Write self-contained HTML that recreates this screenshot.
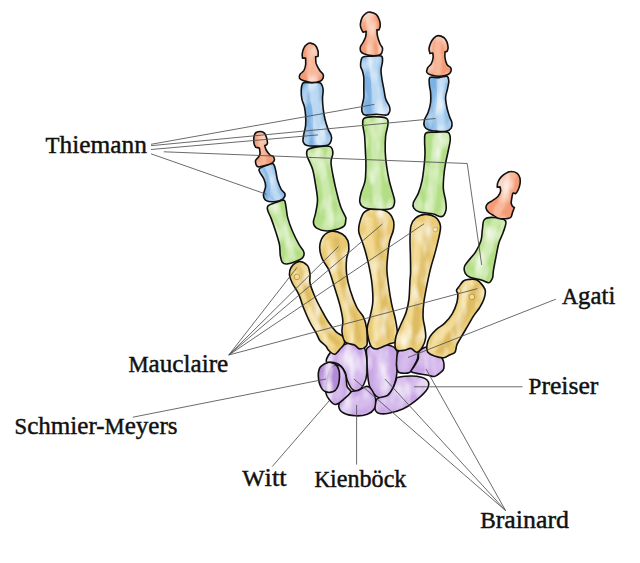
<!DOCTYPE html>
<html><head><meta charset="utf-8"><title>Hand bones</title>
<style>html,body{margin:0;padding:0;background:#fff}body{width:640px;height:563px;overflow:hidden}svg{display:block}
text{font-family:"Liberation Serif",serif;fill:#111}</style></head><body>
<svg width="640" height="563" viewBox="0 0 640 563">
<defs>
<filter id="b8" filterUnits="userSpaceOnUse" x="0" y="0" width="640" height="563"><feGaussianBlur stdDeviation="0.8"/></filter>
<filter id="b12" filterUnits="userSpaceOnUse" x="0" y="0" width="640" height="563"><feGaussianBlur stdDeviation="1.2"/></filter>
<filter id="b20" filterUnits="userSpaceOnUse" x="0" y="0" width="640" height="563"><feGaussianBlur stdDeviation="2"/></filter>
<filter id="wc" x="0" y="0" width="1" height="1">
<feTurbulence type="fractalNoise" baseFrequency="0.09 0.04" numOctaves="2" seed="11" result="n"/>
<feColorMatrix in="n" type="matrix" values="0 0 0 0 1  0 0 0 0 1  0 0 0 0 1  1.8 0 0 0 -0.78"/>
</filter>
</defs>
<rect width="640" height="563" fill="#fff"/>
<g><path d="M342.5,345.0C345.7,343.8 348.5,342.7 352.0,343.0C355.5,343.3 361.2,344.6 363.6,347.0C366.0,349.4 366.0,353.4 366.6,357.7C367.2,362.0 367.4,368.4 367.0,372.8C366.6,377.2 365.5,381.1 364.0,384.0C362.5,386.9 360.0,389.7 358.0,390.5C356.0,391.3 353.8,390.6 352.0,389.0C350.2,387.4 348.7,383.8 347.5,381.0C346.3,378.2 346.1,374.5 345.0,372.0C343.9,369.5 342.8,367.6 341.0,366.0C339.2,364.4 336.4,363.2 334.0,362.5C331.6,361.8 327.6,363.1 326.6,362.0C325.6,360.9 326.9,358.0 328.0,356.0C329.1,354.0 330.6,351.8 333.0,350.0C335.4,348.2 339.3,346.2 342.5,345.0Z" fill="#caa6e5"/><clipPath id="c1"><path d="M342.5,345.0C345.7,343.8 348.5,342.7 352.0,343.0C355.5,343.3 361.2,344.6 363.6,347.0C366.0,349.4 366.0,353.4 366.6,357.7C367.2,362.0 367.4,368.4 367.0,372.8C366.6,377.2 365.5,381.1 364.0,384.0C362.5,386.9 360.0,389.7 358.0,390.5C356.0,391.3 353.8,390.6 352.0,389.0C350.2,387.4 348.7,383.8 347.5,381.0C346.3,378.2 346.1,374.5 345.0,372.0C343.9,369.5 342.8,367.6 341.0,366.0C339.2,364.4 336.4,363.2 334.0,362.5C331.6,361.8 327.6,363.1 326.6,362.0C325.6,360.9 326.9,358.0 328.0,356.0C329.1,354.0 330.6,351.8 333.0,350.0C335.4,348.2 339.3,346.2 342.5,345.0Z"/></clipPath><g clip-path="url(#c1)"><path d="M348.4,354.3 L351.3,356.0 L353.3,358.3 L354.6,361.0 L355.5,363.9 L356.2,367.0 L356.7,370.2 L357.1,373.5 L357.7,376.7" fill="none" stroke="#dcc6f1" stroke-opacity="0.70" stroke-width="13.0" stroke-linecap="round" stroke-linejoin="round" filter="url(#b20)"/><rect x="324" y="341" width="45" height="52" filter="url(#wc)"/></g><path d="M342.5,345.0C345.7,343.8 348.5,342.7 352.0,343.0C355.5,343.3 361.2,344.6 363.6,347.0C366.0,349.4 366.0,353.4 366.6,357.7C367.2,362.0 367.4,368.4 367.0,372.8C366.6,377.2 365.5,381.1 364.0,384.0C362.5,386.9 360.0,389.7 358.0,390.5C356.0,391.3 353.8,390.6 352.0,389.0C350.2,387.4 348.7,383.8 347.5,381.0C346.3,378.2 346.1,374.5 345.0,372.0C343.9,369.5 342.8,367.6 341.0,366.0C339.2,364.4 336.4,363.2 334.0,362.5C331.6,361.8 327.6,363.1 326.6,362.0C325.6,360.9 326.9,358.0 328.0,356.0C329.1,354.0 330.6,351.8 333.0,350.0C335.4,348.2 339.3,346.2 342.5,345.0Z" fill="none" stroke="#111" stroke-width="1.6" stroke-linejoin="round"/></g>
<g><path d="M367.3,348.0C369.5,345.7 375.2,343.8 380.0,344.0C384.8,344.2 393.1,345.5 396.0,349.0C398.9,352.5 397.1,360.5 397.2,365.2C397.2,369.9 397.0,373.5 396.3,377.3C395.6,381.1 394.4,384.9 393.0,387.9C391.6,390.9 390.0,393.8 387.7,395.4C385.4,397.0 381.6,397.9 379.3,397.7C377.0,397.4 375.6,395.8 374.0,393.9C372.4,392.0 370.6,389.8 369.5,386.3C368.4,382.8 367.9,377.5 367.5,372.8C367.1,368.1 367.0,362.1 367.0,358.0C367.0,353.9 365.1,350.3 367.3,348.0Z" fill="#caa6e5"/><clipPath id="c2"><path d="M367.3,348.0C369.5,345.7 375.2,343.8 380.0,344.0C384.8,344.2 393.1,345.5 396.0,349.0C398.9,352.5 397.1,360.5 397.2,365.2C397.2,369.9 397.0,373.5 396.3,377.3C395.6,381.1 394.4,384.9 393.0,387.9C391.6,390.9 390.0,393.8 387.7,395.4C385.4,397.0 381.6,397.9 379.3,397.7C377.0,397.4 375.6,395.8 374.0,393.9C372.4,392.0 370.6,389.8 369.5,386.3C368.4,382.8 367.9,377.5 367.5,372.8C367.1,368.1 367.0,362.1 367.0,358.0C367.0,353.9 365.1,350.3 367.3,348.0Z"/></clipPath><g clip-path="url(#c2)"><path d="M382.3,357.2 L382.3,360.6 L382.2,364.0 L382.2,367.3 L382.3,370.7 L382.3,374.1 L382.2,377.4 L382.1,380.8 L381.9,384.2" fill="none" stroke="#dcc6f1" stroke-opacity="0.70" stroke-width="14.9" stroke-linecap="round" stroke-linejoin="round" filter="url(#b20)"/><rect x="364" y="342" width="35" height="58" filter="url(#wc)"/></g><path d="M367.3,348.0C369.5,345.7 375.2,343.8 380.0,344.0C384.8,344.2 393.1,345.5 396.0,349.0C398.9,352.5 397.1,360.5 397.2,365.2C397.2,369.9 397.0,373.5 396.3,377.3C395.6,381.1 394.4,384.9 393.0,387.9C391.6,390.9 390.0,393.8 387.7,395.4C385.4,397.0 381.6,397.9 379.3,397.7C377.0,397.4 375.6,395.8 374.0,393.9C372.4,392.0 370.6,389.8 369.5,386.3C368.4,382.8 367.9,377.5 367.5,372.8C367.1,368.1 367.0,362.1 367.0,358.0C367.0,353.9 365.1,350.3 367.3,348.0Z" fill="none" stroke="#111" stroke-width="1.6" stroke-linejoin="round"/></g>
<g><path d="M398.8,351.0C400.6,349.2 404.9,348.0 408.0,348.0C411.1,348.0 415.9,349.2 417.5,351.0C419.1,352.8 418.1,356.2 417.5,358.8C416.9,361.3 415.1,364.0 413.8,366.2C412.4,368.5 411.8,371.4 409.5,372.5C407.2,373.6 401.8,373.4 399.7,372.8C397.6,372.2 397.4,371.3 396.9,369.0C396.4,366.7 396.4,362.0 396.7,359.0C397.0,356.0 396.9,352.8 398.8,351.0Z" fill="#caa6e5"/><clipPath id="c3"><path d="M398.8,351.0C400.6,349.2 404.9,348.0 408.0,348.0C411.1,348.0 415.9,349.2 417.5,351.0C419.1,352.8 418.1,356.2 417.5,358.8C416.9,361.3 415.1,364.0 413.8,366.2C412.4,368.5 411.8,371.4 409.5,372.5C407.2,373.6 401.8,373.4 399.7,372.8C397.6,372.2 397.4,371.3 396.9,369.0C396.4,366.7 396.4,362.0 396.7,359.0C397.0,356.0 396.9,352.8 398.8,351.0Z"/></clipPath><g clip-path="url(#c3)"><path d="M409.5,354.2 L408.3,355.5 L407.2,356.9 L406.3,358.5 L405.7,360.1 L405.1,361.9 L404.7,363.7 L404.2,365.4 L403.6,367.2" fill="none" stroke="#dcc6f1" stroke-opacity="0.70" stroke-width="9.7" stroke-linecap="round" stroke-linejoin="round" filter="url(#b20)"/><rect x="394" y="346" width="26" height="29" filter="url(#wc)"/></g><path d="M398.8,351.0C400.6,349.2 404.9,348.0 408.0,348.0C411.1,348.0 415.9,349.2 417.5,351.0C419.1,352.8 418.1,356.2 417.5,358.8C416.9,361.3 415.1,364.0 413.8,366.2C412.4,368.5 411.8,371.4 409.5,372.5C407.2,373.6 401.8,373.4 399.7,372.8C397.6,372.2 397.4,371.3 396.9,369.0C396.4,366.7 396.4,362.0 396.7,359.0C397.0,356.0 396.9,352.8 398.8,351.0Z" fill="none" stroke="#111" stroke-width="1.6" stroke-linejoin="round"/></g>
<g><path d="M419.4,351.0C421.4,349.0 426.2,345.8 430.0,347.0C433.8,348.2 439.6,354.5 441.9,358.0C444.2,361.5 444.2,365.6 443.9,368.1C443.6,370.6 441.6,371.6 440.0,373.0C438.4,374.4 436.6,376.2 434.4,376.5C432.2,376.8 430.7,375.8 426.9,375.0C423.1,374.2 413.9,373.4 411.8,372.0C409.7,370.6 412.9,368.9 414.0,366.7C415.1,364.5 417.3,361.6 418.2,359.0C419.1,356.4 417.4,353.0 419.4,351.0Z" fill="#caa6e5"/><clipPath id="c4"><path d="M419.4,351.0C421.4,349.0 426.2,345.8 430.0,347.0C433.8,348.2 439.6,354.5 441.9,358.0C444.2,361.5 444.2,365.6 443.9,368.1C443.6,370.6 441.6,371.6 440.0,373.0C438.4,374.4 436.6,376.2 434.4,376.5C432.2,376.8 430.7,375.8 426.9,375.0C423.1,374.2 413.9,373.4 411.8,372.0C409.7,370.6 412.9,368.9 414.0,366.7C415.1,364.5 417.3,361.6 418.2,359.0C419.1,356.4 417.4,353.0 419.4,351.0Z"/></clipPath><g clip-path="url(#c4)"><path d="M422.7,360.2 L424.7,360.4 L426.5,360.9 L428.3,361.5 L430.0,362.2 L431.7,363.1 L433.4,364.1 L435.0,365.1 L436.7,366.2" fill="none" stroke="#dcc6f1" stroke-opacity="0.70" stroke-width="13.3" stroke-linecap="round" stroke-linejoin="round" filter="url(#b20)"/><rect x="409" y="345" width="37" height="34" filter="url(#wc)"/></g><path d="M419.4,351.0C421.4,349.0 426.2,345.8 430.0,347.0C433.8,348.2 439.6,354.5 441.9,358.0C444.2,361.5 444.2,365.6 443.9,368.1C443.6,370.6 441.6,371.6 440.0,373.0C438.4,374.4 436.6,376.2 434.4,376.5C432.2,376.8 430.7,375.8 426.9,375.0C423.1,374.2 413.9,373.4 411.8,372.0C409.7,370.6 412.9,368.9 414.0,366.7C415.1,364.5 417.3,361.6 418.2,359.0C419.1,356.4 417.4,353.0 419.4,351.0Z" fill="none" stroke="#111" stroke-width="1.6" stroke-linejoin="round"/></g>
<g><path d="M397.5,377.5C399.9,376.8 406.3,376.1 410.3,376.0C414.3,375.9 418.7,376.5 421.5,377.2C424.3,377.9 425.8,378.8 427.0,380.0C428.2,381.2 428.9,382.6 428.8,384.3C428.7,386.1 428.6,387.6 426.3,390.5C424.0,393.4 418.7,398.3 414.8,401.4C410.9,404.5 407.3,407.0 402.8,409.0C398.3,411.0 391.8,412.8 387.7,413.5C383.6,414.2 380.1,413.9 378.0,413.0C375.9,412.1 375.1,410.1 374.8,408.0C374.5,405.9 375.2,402.2 376.0,400.5C376.8,398.8 377.4,398.6 379.3,397.7C381.2,396.8 385.4,397.0 387.7,395.4C390.0,393.8 391.6,390.5 393.0,388.0C394.4,385.5 395.2,382.2 396.0,380.5C396.8,378.8 395.1,378.2 397.5,377.5Z" fill="#caa6e5"/><clipPath id="c5"><path d="M397.5,377.5C399.9,376.8 406.3,376.1 410.3,376.0C414.3,375.9 418.7,376.5 421.5,377.2C424.3,377.9 425.8,378.8 427.0,380.0C428.2,381.2 428.9,382.6 428.8,384.3C428.7,386.1 428.6,387.6 426.3,390.5C424.0,393.4 418.7,398.3 414.8,401.4C410.9,404.5 407.3,407.0 402.8,409.0C398.3,411.0 391.8,412.8 387.7,413.5C383.6,414.2 380.1,413.9 378.0,413.0C375.9,412.1 375.1,410.1 374.8,408.0C374.5,405.9 375.2,402.2 376.0,400.5C376.8,398.8 377.4,398.6 379.3,397.7C381.2,396.8 385.4,397.0 387.7,395.4C390.0,393.8 391.6,390.5 393.0,388.0C394.4,385.5 395.2,382.2 396.0,380.5C396.8,378.8 395.1,378.2 397.5,377.5Z"/></clipPath><g clip-path="url(#c5)"><path d="M413.9,386.7 L410.4,388.1 L406.9,389.6 L403.5,391.3 L401.3,395.0 L398.7,398.1 L395.9,400.8 L392.8,403.0 L389.3,404.3" fill="none" stroke="#dcc6f1" stroke-opacity="0.70" stroke-width="12.1" stroke-linecap="round" stroke-linejoin="round" filter="url(#b20)"/><rect x="373" y="374" width="58" height="42" filter="url(#wc)"/></g><path d="M397.5,377.5C399.9,376.8 406.3,376.1 410.3,376.0C414.3,375.9 418.7,376.5 421.5,377.2C424.3,377.9 425.8,378.8 427.0,380.0C428.2,381.2 428.9,382.6 428.8,384.3C428.7,386.1 428.6,387.6 426.3,390.5C424.0,393.4 418.7,398.3 414.8,401.4C410.9,404.5 407.3,407.0 402.8,409.0C398.3,411.0 391.8,412.8 387.7,413.5C383.6,414.2 380.1,413.9 378.0,413.0C375.9,412.1 375.1,410.1 374.8,408.0C374.5,405.9 375.2,402.2 376.0,400.5C376.8,398.8 377.4,398.6 379.3,397.7C381.2,396.8 385.4,397.0 387.7,395.4C390.0,393.8 391.6,390.5 393.0,388.0C394.4,385.5 395.2,382.2 396.0,380.5C396.8,378.8 395.1,378.2 397.5,377.5Z" fill="none" stroke="#111" stroke-width="1.6" stroke-linejoin="round"/></g>
<g><path d="M350.8,392.0C353.4,390.7 355.5,391.4 358.0,390.5C360.5,389.6 363.8,386.9 365.9,386.5C368.0,386.1 369.0,386.6 370.4,388.0C371.8,389.4 373.6,392.9 374.5,395.0C375.4,397.1 375.8,398.2 375.7,400.5C375.6,402.8 375.6,406.7 374.2,409.0C372.8,411.3 370.5,413.2 367.4,414.3C364.2,415.4 359.3,416.1 355.3,415.8C351.3,415.6 346.0,414.4 343.2,412.8C340.4,411.2 338.8,408.4 338.7,406.0C338.6,403.6 340.5,400.7 342.5,398.4C344.5,396.1 348.2,393.3 350.8,392.0Z" fill="#caa6e5"/><clipPath id="c6"><path d="M350.8,392.0C353.4,390.7 355.5,391.4 358.0,390.5C360.5,389.6 363.8,386.9 365.9,386.5C368.0,386.1 369.0,386.6 370.4,388.0C371.8,389.4 373.6,392.9 374.5,395.0C375.4,397.1 375.8,398.2 375.7,400.5C375.6,402.8 375.6,406.7 374.2,409.0C372.8,411.3 370.5,413.2 367.4,414.3C364.2,415.4 359.3,416.1 355.3,415.8C351.3,415.6 346.0,414.4 343.2,412.8C340.4,411.2 338.8,408.4 338.7,406.0C338.6,403.6 340.5,400.7 342.5,398.4C344.5,396.1 348.2,393.3 350.8,392.0Z"/></clipPath><g clip-path="url(#c6)"><path d="M366.5,400.4 L364.4,401.6 L362.2,402.5 L359.9,403.1 L357.5,403.4 L355.2,403.9 L352.9,404.5 L350.6,405.2 L348.4,405.8" fill="none" stroke="#dcc6f1" stroke-opacity="0.70" stroke-width="12.8" stroke-linecap="round" stroke-linejoin="round" filter="url(#b20)"/><rect x="337" y="384" width="41" height="33" filter="url(#wc)"/></g><path d="M350.8,392.0C353.4,390.7 355.5,391.4 358.0,390.5C360.5,389.6 363.8,386.9 365.9,386.5C368.0,386.1 369.0,386.6 370.4,388.0C371.8,389.4 373.6,392.9 374.5,395.0C375.4,397.1 375.8,398.2 375.7,400.5C375.6,402.8 375.6,406.7 374.2,409.0C372.8,411.3 370.5,413.2 367.4,414.3C364.2,415.4 359.3,416.1 355.3,415.8C351.3,415.6 346.0,414.4 343.2,412.8C340.4,411.2 338.8,408.4 338.7,406.0C338.6,403.6 340.5,400.7 342.5,398.4C344.5,396.1 348.2,393.3 350.8,392.0Z" fill="none" stroke="#111" stroke-width="1.6" stroke-linejoin="round"/></g>
<g><path d="M339.4,365.5C341.8,366.6 344.2,370.8 345.5,374.3C346.8,377.8 346.1,383.4 347.0,386.3C347.9,389.2 351.2,389.6 350.8,391.6C350.4,393.6 347.2,396.2 344.7,398.4C342.2,400.5 338.2,404.2 335.7,404.5C333.2,404.8 331.2,401.9 329.6,400.0C328.0,398.1 326.3,396.3 325.9,393.0C325.5,389.7 326.1,384.2 327.0,380.0C327.9,375.8 328.9,370.4 331.0,368.0C333.1,365.6 337.0,364.4 339.4,365.5Z" fill="#caa6e5"/><clipPath id="c7"><path d="M339.4,365.5C341.8,366.6 344.2,370.8 345.5,374.3C346.8,377.8 346.1,383.4 347.0,386.3C347.9,389.2 351.2,389.6 350.8,391.6C350.4,393.6 347.2,396.2 344.7,398.4C342.2,400.5 338.2,404.2 335.7,404.5C333.2,404.8 331.2,401.9 329.6,400.0C328.0,398.1 326.3,396.3 325.9,393.0C325.5,389.7 326.1,384.2 327.0,380.0C327.9,375.8 328.9,370.4 331.0,368.0C333.1,365.6 337.0,364.4 339.4,365.5Z"/></clipPath><g clip-path="url(#c7)"><path d="M336.9,375.0 L336.9,377.4 L336.7,379.9 L336.5,382.3 L336.5,384.8 L336.7,387.3 L337.9,389.7 L338.2,392.2 L337.5,394.7" fill="none" stroke="#dcc6f1" stroke-opacity="0.70" stroke-width="10.2" stroke-linecap="round" stroke-linejoin="round" filter="url(#b20)"/><rect x="324" y="363" width="29" height="43" filter="url(#wc)"/></g><path d="M339.4,365.5C341.8,366.6 344.2,370.8 345.5,374.3C346.8,377.8 346.1,383.4 347.0,386.3C347.9,389.2 351.2,389.6 350.8,391.6C350.4,393.6 347.2,396.2 344.7,398.4C342.2,400.5 338.2,404.2 335.7,404.5C333.2,404.8 331.2,401.9 329.6,400.0C328.0,398.1 326.3,396.3 325.9,393.0C325.5,389.7 326.1,384.2 327.0,380.0C327.9,375.8 328.9,370.4 331.0,368.0C333.1,365.6 337.0,364.4 339.4,365.5Z" fill="none" stroke="#111" stroke-width="1.6" stroke-linejoin="round"/></g>
<g><path d="M318.3,376.0C318.2,373.7 318.5,371.4 319.0,369.7C319.5,368.0 320.0,367.0 321.5,365.8C323.0,364.6 326.1,362.9 328.0,362.4C329.9,361.9 331.3,362.5 332.7,363.0C334.1,363.5 335.6,364.1 336.6,365.4C337.7,366.6 338.5,368.7 339.0,370.5C339.5,372.3 339.5,374.1 339.5,376.0C339.5,377.9 339.3,380.1 339.0,381.8C338.7,383.6 338.5,385.0 337.8,386.5C337.1,388.0 336.3,389.6 335.0,390.6C333.7,391.6 331.6,392.2 330.0,392.4C328.4,392.6 326.5,392.2 325.1,391.6C323.7,391.0 322.8,390.0 321.8,388.6C320.9,387.2 320.0,385.4 319.4,383.3C318.8,381.2 318.4,378.3 318.3,376.0Z" fill="#b48ad6"/><clipPath id="c8"><path d="M318.3,376.0C318.2,373.7 318.5,371.4 319.0,369.7C319.5,368.0 320.0,367.0 321.5,365.8C323.0,364.6 326.1,362.9 328.0,362.4C329.9,361.9 331.3,362.5 332.7,363.0C334.1,363.5 335.6,364.1 336.6,365.4C337.7,366.6 338.5,368.7 339.0,370.5C339.5,372.3 339.5,374.1 339.5,376.0C339.5,377.9 339.3,380.1 339.0,381.8C338.7,383.6 338.5,385.0 337.8,386.5C337.1,388.0 336.3,389.6 335.0,390.6C333.7,391.6 331.6,392.2 330.0,392.4C328.4,392.6 326.5,392.2 325.1,391.6C323.7,391.0 322.8,390.0 321.8,388.6C320.9,387.2 320.0,385.4 319.4,383.3C318.8,381.2 318.4,378.3 318.3,376.0Z"/></clipPath><g clip-path="url(#c8)"><path d="M342.5,345.0C345.7,343.8 348.5,342.7 352.0,343.0C355.5,343.3 361.2,344.6 363.6,347.0C366.0,349.4 366.0,353.4 366.6,357.7C367.2,362.0 367.4,368.4 367.0,372.8C366.6,377.2 365.5,381.1 364.0,384.0C362.5,386.9 360.0,389.7 358.0,390.5C356.0,391.3 353.8,390.6 352.0,389.0C350.2,387.4 348.7,383.8 347.5,381.0C346.3,378.2 346.1,374.5 345.0,372.0C343.9,369.5 342.8,367.6 341.0,366.0C339.2,364.4 336.4,363.2 334.0,362.5C331.6,361.8 327.6,363.1 326.6,362.0C325.6,360.9 326.9,358.0 328.0,356.0C329.1,354.0 330.6,351.8 333.0,350.0C335.4,348.2 339.3,346.2 342.5,345.0Z" fill="#b48bd6" fill-opacity="0.45" stroke="#2a1a3a" stroke-opacity="0.75" stroke-width="1.2"/><path d="M339.4,365.5C341.8,366.6 344.2,370.8 345.5,374.3C346.8,377.8 346.1,383.4 347.0,386.3C347.9,389.2 351.2,389.6 350.8,391.6C350.4,393.6 347.2,396.2 344.7,398.4C342.2,400.5 338.2,404.2 335.7,404.5C333.2,404.8 331.2,401.9 329.6,400.0C328.0,398.1 326.3,396.3 325.9,393.0C325.5,389.7 326.1,384.2 327.0,380.0C327.9,375.8 328.9,370.4 331.0,368.0C333.1,365.6 337.0,364.4 339.4,365.5Z" fill="none" stroke="#3a2a4a" stroke-opacity="0.4" stroke-width="1.1"/><rect x="316" y="360" width="25" height="34" filter="url(#wc)"/></g><path d="M318.3,376.0C318.2,373.7 318.5,371.4 319.0,369.7C319.5,368.0 320.0,367.0 321.5,365.8C323.0,364.6 326.1,362.9 328.0,362.4C329.9,361.9 331.3,362.5 332.7,363.0C334.1,363.5 335.6,364.1 336.6,365.4C337.7,366.6 338.5,368.7 339.0,370.5C339.5,372.3 339.5,374.1 339.5,376.0C339.5,377.9 339.3,380.1 339.0,381.8C338.7,383.6 338.5,385.0 337.8,386.5C337.1,388.0 336.3,389.6 335.0,390.6C333.7,391.6 331.6,392.2 330.0,392.4C328.4,392.6 326.5,392.2 325.1,391.6C323.7,391.0 322.8,390.0 321.8,388.6C320.9,387.2 320.0,385.4 319.4,383.3C318.8,381.2 318.4,378.3 318.3,376.0Z" fill="none" stroke="#111" stroke-width="1.6" stroke-linejoin="round"/></g>
<g><path d="M298.8,261.6C301.4,261.3 305.3,263.3 307.2,265.3C309.1,267.3 309.5,270.8 310.0,273.8C310.5,276.7 309.2,279.2 310.0,283.0C310.8,286.8 312.7,291.5 314.7,296.2C316.7,301.0 319.9,306.9 322.2,311.2C324.5,315.6 326.4,319.1 328.8,322.5C331.1,325.9 333.8,329.5 336.2,331.9C338.7,334.3 341.9,334.9 343.3,336.8C344.7,338.7 345.1,341.5 344.5,343.5C343.9,345.5 341.6,347.2 340.0,349.0C338.4,350.8 336.6,354.0 334.7,354.2C332.8,354.4 330.2,351.8 328.7,350.4C327.2,349.0 327.2,347.5 325.7,345.9C324.2,344.2 321.3,342.5 319.8,340.5C318.3,338.5 318.2,336.8 316.6,333.8C315.0,330.8 312.2,326.9 310.0,322.5C307.8,318.1 305.3,312.2 303.4,307.5C301.5,302.8 300.6,298.5 298.8,294.4C296.9,290.3 293.8,286.3 292.2,283.0C290.6,279.7 289.6,277.3 289.4,274.7C289.2,272.1 289.7,269.4 291.2,267.2C292.8,265.0 296.1,261.9 298.8,261.6Z" fill="#e9c972"/><clipPath id="c9"><path d="M298.8,261.6C301.4,261.3 305.3,263.3 307.2,265.3C309.1,267.3 309.5,270.8 310.0,273.8C310.5,276.7 309.2,279.2 310.0,283.0C310.8,286.8 312.7,291.5 314.7,296.2C316.7,301.0 319.9,306.9 322.2,311.2C324.5,315.6 326.4,319.1 328.8,322.5C331.1,325.9 333.8,329.5 336.2,331.9C338.7,334.3 341.9,334.9 343.3,336.8C344.7,338.7 345.1,341.5 344.5,343.5C343.9,345.5 341.6,347.2 340.0,349.0C338.4,350.8 336.6,354.0 334.7,354.2C332.8,354.4 330.2,351.8 328.7,350.4C327.2,349.0 327.2,347.5 325.7,345.9C324.2,344.2 321.3,342.5 319.8,340.5C318.3,338.5 318.2,336.8 316.6,333.8C315.0,330.8 312.2,326.9 310.0,322.5C307.8,318.1 305.3,312.2 303.4,307.5C301.5,302.8 300.6,298.5 298.8,294.4C296.9,290.3 293.8,286.3 292.2,283.0C290.6,279.7 289.6,277.3 289.4,274.7C289.2,272.1 289.7,269.4 291.2,267.2C292.8,265.0 296.1,261.9 298.8,261.6Z"/></clipPath><g clip-path="url(#c9)"><path d="M294.5,272.2 L297.8,282.2 L301.9,291.8 L305.6,301.6 L309.6,311.3 L314.1,320.7 L319.5,329.7 L324.9,338.6 L332.4,346.6" fill="none" stroke="#f4df9e" stroke-opacity="0.80" stroke-width="4.9" stroke-linecap="round" stroke-linejoin="round" filter="url(#b12)"/><path d="M300.7,269.2 L303.6,279.4 L306.3,289.7 L310.1,299.4 L314.4,309.0 L319.1,318.3 L324.5,327.2 L330.7,335.8 L338.2,343.8" fill="none" stroke="#d9b65d" stroke-opacity="0.70" stroke-width="4.9" stroke-linecap="round" stroke-linejoin="round" filter="url(#b12)"/><circle cx="296.9" cy="276.9" r="2.8" fill="#f3dc96" stroke="#b8923f" stroke-width="0.9"/><rect x="287" y="260" width="59" height="97" filter="url(#wc)"/></g><path d="M298.8,261.6C301.4,261.3 305.3,263.3 307.2,265.3C309.1,267.3 309.5,270.8 310.0,273.8C310.5,276.7 309.2,279.2 310.0,283.0C310.8,286.8 312.7,291.5 314.7,296.2C316.7,301.0 319.9,306.9 322.2,311.2C324.5,315.6 326.4,319.1 328.8,322.5C331.1,325.9 333.8,329.5 336.2,331.9C338.7,334.3 341.9,334.9 343.3,336.8C344.7,338.7 345.1,341.5 344.5,343.5C343.9,345.5 341.6,347.2 340.0,349.0C338.4,350.8 336.6,354.0 334.7,354.2C332.8,354.4 330.2,351.8 328.7,350.4C327.2,349.0 327.2,347.5 325.7,345.9C324.2,344.2 321.3,342.5 319.8,340.5C318.3,338.5 318.2,336.8 316.6,333.8C315.0,330.8 312.2,326.9 310.0,322.5C307.8,318.1 305.3,312.2 303.4,307.5C301.5,302.8 300.6,298.5 298.8,294.4C296.9,290.3 293.8,286.3 292.2,283.0C290.6,279.7 289.6,277.3 289.4,274.7C289.2,272.1 289.7,269.4 291.2,267.2C292.8,265.0 296.1,261.9 298.8,261.6Z" fill="none" stroke="#111" stroke-width="1.6" stroke-linejoin="round"/></g>
<g><path d="M331.9,231.2C335.0,230.9 339.5,232.4 342.2,234.0C344.9,235.6 346.7,237.9 347.8,240.6C348.9,243.3 348.9,247.0 348.8,250.0C348.6,253.0 347.0,254.8 346.6,258.8C346.2,262.7 346.0,268.4 346.6,273.8C347.2,279.1 348.6,285.0 350.3,290.6C352.0,296.2 354.7,303.1 356.9,307.5C359.1,311.9 361.8,313.5 363.4,316.9C365.0,320.3 366.0,324.4 366.6,328.1C367.2,331.9 367.2,336.4 367.2,339.4C367.2,342.4 367.7,344.3 366.4,345.9C365.1,347.5 361.6,349.0 359.6,348.9C357.6,348.8 356.8,346.1 354.4,345.0C352.0,343.9 347.4,344.2 345.3,342.0C343.2,339.8 342.4,335.6 342.0,332.0C341.6,328.4 343.1,325.0 342.8,320.6C342.5,316.2 341.4,311.2 340.0,305.6C338.6,300.0 336.3,292.8 334.4,286.9C332.5,281.0 330.8,274.7 328.8,270.0C326.7,265.3 323.7,262.6 322.2,258.8C320.7,254.9 319.5,250.8 319.7,247.0C319.9,243.2 321.4,238.6 323.4,236.0C325.4,233.4 328.8,231.6 331.9,231.2Z" fill="#e9c972"/><clipPath id="c10"><path d="M331.9,231.2C335.0,230.9 339.5,232.4 342.2,234.0C344.9,235.6 346.7,237.9 347.8,240.6C348.9,243.3 348.9,247.0 348.8,250.0C348.6,253.0 347.0,254.8 346.6,258.8C346.2,262.7 346.0,268.4 346.6,273.8C347.2,279.1 348.6,285.0 350.3,290.6C352.0,296.2 354.7,303.1 356.9,307.5C359.1,311.9 361.8,313.5 363.4,316.9C365.0,320.3 366.0,324.4 366.6,328.1C367.2,331.9 367.2,336.4 367.2,339.4C367.2,342.4 367.7,344.3 366.4,345.9C365.1,347.5 361.6,349.0 359.6,348.9C357.6,348.8 356.8,346.1 354.4,345.0C352.0,343.9 347.4,344.2 345.3,342.0C343.2,339.8 342.4,335.6 342.0,332.0C341.6,328.4 343.1,325.0 342.8,320.6C342.5,316.2 341.4,311.2 340.0,305.6C338.6,300.0 336.3,292.8 334.4,286.9C332.5,281.0 330.8,274.7 328.8,270.0C326.7,265.3 323.7,262.6 322.2,258.8C320.7,254.9 319.5,250.8 319.7,247.0C319.9,243.2 321.4,238.6 323.4,236.0C325.4,233.4 328.8,231.6 331.9,231.2Z"/></clipPath><g clip-path="url(#c10)"><path d="M327.4,242.2 L329.1,254.9 L333.1,267.1 L336.5,279.3 L340.0,291.6 L343.8,303.7 L347.5,315.9 L348.6,328.7 L351.9,341.1" fill="none" stroke="#f4df9e" stroke-opacity="0.80" stroke-width="5.7" stroke-linecap="round" stroke-linejoin="round" filter="url(#b12)"/><path d="M336.2,240.1 L338.4,252.6 L339.3,265.5 L341.5,278.1 L344.7,290.4 L348.7,302.5 L353.6,314.4 L356.8,326.7 L359.1,339.3" fill="none" stroke="#d9b65d" stroke-opacity="0.70" stroke-width="5.7" stroke-linecap="round" stroke-linejoin="round" filter="url(#b12)"/><rect x="318" y="229" width="52" height="122" filter="url(#wc)"/></g><path d="M331.9,231.2C335.0,230.9 339.5,232.4 342.2,234.0C344.9,235.6 346.7,237.9 347.8,240.6C348.9,243.3 348.9,247.0 348.8,250.0C348.6,253.0 347.0,254.8 346.6,258.8C346.2,262.7 346.0,268.4 346.6,273.8C347.2,279.1 348.6,285.0 350.3,290.6C352.0,296.2 354.7,303.1 356.9,307.5C359.1,311.9 361.8,313.5 363.4,316.9C365.0,320.3 366.0,324.4 366.6,328.1C367.2,331.9 367.2,336.4 367.2,339.4C367.2,342.4 367.7,344.3 366.4,345.9C365.1,347.5 361.6,349.0 359.6,348.9C357.6,348.8 356.8,346.1 354.4,345.0C352.0,343.9 347.4,344.2 345.3,342.0C343.2,339.8 342.4,335.6 342.0,332.0C341.6,328.4 343.1,325.0 342.8,320.6C342.5,316.2 341.4,311.2 340.0,305.6C338.6,300.0 336.3,292.8 334.4,286.9C332.5,281.0 330.8,274.7 328.8,270.0C326.7,265.3 323.7,262.6 322.2,258.8C320.7,254.9 319.5,250.8 319.7,247.0C319.9,243.2 321.4,238.6 323.4,236.0C325.4,233.4 328.8,231.6 331.9,231.2Z" fill="none" stroke="#111" stroke-width="1.6" stroke-linejoin="round"/></g>
<g><path d="M375.6,208.4C379.5,208.4 384.8,210.2 387.8,212.2C390.8,214.2 392.5,217.6 393.4,220.6C394.3,223.6 394.0,226.6 393.4,230.0C392.8,233.4 390.6,237.1 389.7,241.2C388.8,245.4 388.3,250.2 387.8,255.0C387.3,259.8 386.7,264.7 386.9,270.0C387.1,275.3 388.0,281.3 388.8,286.9C389.5,292.5 390.5,298.4 391.6,303.8C392.7,309.1 394.4,314.4 395.3,318.8C396.2,323.1 396.9,327.0 397.2,330.0C397.5,333.0 397.2,335.0 397.0,337.0C396.8,339.0 397.2,340.8 395.7,342.0C394.2,343.2 391.0,343.2 388.0,344.4C385.0,345.5 380.2,348.4 377.5,348.9C374.8,349.4 373.5,348.9 372.0,347.4C370.5,345.9 369.5,343.0 368.7,339.8C367.9,336.6 367.0,331.9 367.2,328.1C367.4,324.3 369.1,321.3 370.0,316.9C370.9,312.5 372.5,307.5 372.8,301.9C373.1,296.2 372.5,288.9 371.9,283.0C371.3,277.1 370.1,271.5 369.0,266.2C367.9,261.0 366.5,255.6 365.3,251.2C364.1,246.9 362.7,243.2 361.6,240.0C360.5,236.8 359.1,234.8 358.8,231.9C358.4,229.0 358.8,225.8 359.7,222.5C360.6,219.2 361.8,214.5 364.4,212.2C367.0,209.8 371.7,208.4 375.6,208.4Z" fill="#e9c972"/><clipPath id="c11"><path d="M375.6,208.4C379.5,208.4 384.8,210.2 387.8,212.2C390.8,214.2 392.5,217.6 393.4,220.6C394.3,223.6 394.0,226.6 393.4,230.0C392.8,233.4 390.6,237.1 389.7,241.2C388.8,245.4 388.3,250.2 387.8,255.0C387.3,259.8 386.7,264.7 386.9,270.0C387.1,275.3 388.0,281.3 388.8,286.9C389.5,292.5 390.5,298.4 391.6,303.8C392.7,309.1 394.4,314.4 395.3,318.8C396.2,323.1 396.9,327.0 397.2,330.0C397.5,333.0 397.2,335.0 397.0,337.0C396.8,339.0 397.2,340.8 395.7,342.0C394.2,343.2 391.0,343.2 388.0,344.4C385.0,345.5 380.2,348.4 377.5,348.9C374.8,349.4 373.5,348.9 372.0,347.4C370.5,345.9 369.5,343.0 368.7,339.8C367.9,336.6 367.0,331.9 367.2,328.1C367.4,324.3 369.1,321.3 370.0,316.9C370.9,312.5 372.5,307.5 372.8,301.9C373.1,296.2 372.5,288.9 371.9,283.0C371.3,277.1 370.1,271.5 369.0,266.2C367.9,261.0 366.5,255.6 365.3,251.2C364.1,246.9 362.7,243.2 361.6,240.0C360.5,236.8 359.1,234.8 358.8,231.9C358.4,229.0 358.8,225.8 359.7,222.5C360.6,219.2 361.8,214.5 364.4,212.2C367.0,209.8 371.7,208.4 375.6,208.4Z"/></clipPath><g clip-path="url(#c11)"><path d="M369.3,220.0 L368.9,234.8 L371.5,249.5 L373.8,264.1 L375.9,278.7 L377.5,293.4 L377.6,308.2 L375.9,323.1 L376.4,337.8" fill="none" stroke="#f4df9e" stroke-opacity="0.80" stroke-width="7.1" stroke-linecap="round" stroke-linejoin="round" filter="url(#b12)"/><path d="M380.3,219.3 L380.0,234.1 L379.5,248.9 L380.0,263.7 L381.4,278.4 L383.2,293.0 L384.6,307.7 L385.3,322.4 L386.2,337.1" fill="none" stroke="#d9b65d" stroke-opacity="0.70" stroke-width="7.1" stroke-linecap="round" stroke-linejoin="round" filter="url(#b12)"/><rect x="357" y="206" width="43" height="145" filter="url(#wc)"/></g><path d="M375.6,208.4C379.5,208.4 384.8,210.2 387.8,212.2C390.8,214.2 392.5,217.6 393.4,220.6C394.3,223.6 394.0,226.6 393.4,230.0C392.8,233.4 390.6,237.1 389.7,241.2C388.8,245.4 388.3,250.2 387.8,255.0C387.3,259.8 386.7,264.7 386.9,270.0C387.1,275.3 388.0,281.3 388.8,286.9C389.5,292.5 390.5,298.4 391.6,303.8C392.7,309.1 394.4,314.4 395.3,318.8C396.2,323.1 396.9,327.0 397.2,330.0C397.5,333.0 397.2,335.0 397.0,337.0C396.8,339.0 397.2,340.8 395.7,342.0C394.2,343.2 391.0,343.2 388.0,344.4C385.0,345.5 380.2,348.4 377.5,348.9C374.8,349.4 373.5,348.9 372.0,347.4C370.5,345.9 369.5,343.0 368.7,339.8C367.9,336.6 367.0,331.9 367.2,328.1C367.4,324.3 369.1,321.3 370.0,316.9C370.9,312.5 372.5,307.5 372.8,301.9C373.1,296.2 372.5,288.9 371.9,283.0C371.3,277.1 370.1,271.5 369.0,266.2C367.9,261.0 366.5,255.6 365.3,251.2C364.1,246.9 362.7,243.2 361.6,240.0C360.5,236.8 359.1,234.8 358.8,231.9C358.4,229.0 358.8,225.8 359.7,222.5C360.6,219.2 361.8,214.5 364.4,212.2C367.0,209.8 371.7,208.4 375.6,208.4Z" fill="none" stroke="#111" stroke-width="1.6" stroke-linejoin="round"/></g>
<g><path d="M425.0,214.4C428.3,214.2 432.7,215.3 435.3,217.2C437.9,219.1 439.8,222.3 440.4,225.6C441.0,228.9 439.9,232.5 439.0,236.9C438.1,241.3 436.6,246.9 435.3,251.9C434.0,256.9 432.4,261.6 431.0,266.9C429.6,272.2 428.4,277.9 427.2,283.8C426.0,289.6 424.6,296.4 423.9,302.0C423.2,307.6 422.9,313.0 423.1,317.5C423.3,322.0 424.6,325.3 425.0,328.8C425.4,332.2 426.1,335.0 425.6,338.1C425.1,341.2 423.7,345.1 422.2,347.5C420.7,349.9 418.5,352.1 416.6,352.2C414.7,352.3 413.0,348.7 411.0,348.4C409.0,348.1 406.8,350.0 404.4,350.3C402.0,350.6 398.5,351.1 396.9,350.3C395.3,349.5 395.1,347.9 395.0,345.6C394.9,343.3 395.1,339.7 396.0,336.2C396.9,332.8 398.9,329.1 400.6,325.0C402.3,320.9 404.9,316.3 406.2,311.9C407.6,307.5 408.4,304.1 409.0,298.8C409.6,293.4 409.7,284.4 410.0,280.0C410.3,275.6 410.5,276.6 410.6,272.5C410.7,268.4 410.5,261.2 410.4,255.6C410.3,250.0 409.9,243.8 410.0,238.8C410.1,233.8 410.1,229.0 411.0,225.6C411.9,222.2 413.3,220.0 415.6,218.1C417.9,216.2 421.7,214.6 425.0,214.4Z" fill="#e9c972"/><clipPath id="c12"><path d="M425.0,214.4C428.3,214.2 432.7,215.3 435.3,217.2C437.9,219.1 439.8,222.3 440.4,225.6C441.0,228.9 439.9,232.5 439.0,236.9C438.1,241.3 436.6,246.9 435.3,251.9C434.0,256.9 432.4,261.6 431.0,266.9C429.6,272.2 428.4,277.9 427.2,283.8C426.0,289.6 424.6,296.4 423.9,302.0C423.2,307.6 422.9,313.0 423.1,317.5C423.3,322.0 424.6,325.3 425.0,328.8C425.4,332.2 426.1,335.0 425.6,338.1C425.1,341.2 423.7,345.1 422.2,347.5C420.7,349.9 418.5,352.1 416.6,352.2C414.7,352.3 413.0,348.7 411.0,348.4C409.0,348.1 406.8,350.0 404.4,350.3C402.0,350.6 398.5,351.1 396.9,350.3C395.3,349.5 395.1,347.9 395.0,345.6C394.9,343.3 395.1,339.7 396.0,336.2C396.9,332.8 398.9,329.1 400.6,325.0C402.3,320.9 404.9,316.3 406.2,311.9C407.6,307.5 408.4,304.1 409.0,298.8C409.6,293.4 409.7,284.4 410.0,280.0C410.3,275.6 410.5,276.6 410.6,272.5C410.7,268.4 410.5,261.2 410.4,255.6C410.3,250.0 409.9,243.8 410.0,238.8C410.1,233.8 410.1,229.0 411.0,225.6C411.9,222.2 413.3,220.0 415.6,218.1C417.9,216.2 421.7,214.6 425.0,214.4Z"/></clipPath><g clip-path="url(#c12)"><path d="M419.8,224.6 L417.8,239.1 L417.0,253.7 L416.1,268.3 L414.7,282.8 L413.4,297.4 L411.1,311.8 L407.4,326.0 L403.5,340.2" fill="none" stroke="#f4df9e" stroke-opacity="0.80" stroke-width="7.2" stroke-linecap="round" stroke-linejoin="round" filter="url(#b12)"/><path d="M429.6,226.0 L427.3,240.4 L425.1,254.8 L422.7,269.2 L420.5,283.7 L418.6,298.1 L416.8,312.6 L415.7,327.2 L413.3,341.6" fill="none" stroke="#d9b65d" stroke-opacity="0.70" stroke-width="7.2" stroke-linecap="round" stroke-linejoin="round" filter="url(#b12)"/><circle cx="435.3" cy="229.4" r="2.4" fill="#f3dc96" stroke="#b8923f" stroke-width="0.9"/><rect x="393" y="212" width="50" height="142" filter="url(#wc)"/></g><path d="M425.0,214.4C428.3,214.2 432.7,215.3 435.3,217.2C437.9,219.1 439.8,222.3 440.4,225.6C441.0,228.9 439.9,232.5 439.0,236.9C438.1,241.3 436.6,246.9 435.3,251.9C434.0,256.9 432.4,261.6 431.0,266.9C429.6,272.2 428.4,277.9 427.2,283.8C426.0,289.6 424.6,296.4 423.9,302.0C423.2,307.6 422.9,313.0 423.1,317.5C423.3,322.0 424.6,325.3 425.0,328.8C425.4,332.2 426.1,335.0 425.6,338.1C425.1,341.2 423.7,345.1 422.2,347.5C420.7,349.9 418.5,352.1 416.6,352.2C414.7,352.3 413.0,348.7 411.0,348.4C409.0,348.1 406.8,350.0 404.4,350.3C402.0,350.6 398.5,351.1 396.9,350.3C395.3,349.5 395.1,347.9 395.0,345.6C394.9,343.3 395.1,339.7 396.0,336.2C396.9,332.8 398.9,329.1 400.6,325.0C402.3,320.9 404.9,316.3 406.2,311.9C407.6,307.5 408.4,304.1 409.0,298.8C409.6,293.4 409.7,284.4 410.0,280.0C410.3,275.6 410.5,276.6 410.6,272.5C410.7,268.4 410.5,261.2 410.4,255.6C410.3,250.0 409.9,243.8 410.0,238.8C410.1,233.8 410.1,229.0 411.0,225.6C411.9,222.2 413.3,220.0 415.6,218.1C417.9,216.2 421.7,214.6 425.0,214.4Z" fill="none" stroke="#111" stroke-width="1.6" stroke-linejoin="round"/></g>
<g><path d="M468.0,279.5C470.3,279.3 474.2,278.4 477.0,280.0C479.8,281.6 483.8,286.3 485.0,289.4C486.2,292.5 484.9,295.6 484.0,298.8C483.1,301.9 481.1,305.2 479.4,308.0C477.7,310.8 475.8,312.5 473.8,315.6C471.7,318.8 469.4,323.1 467.2,326.9C465.0,330.6 462.3,335.1 460.6,338.1C458.9,341.1 457.8,342.4 456.9,344.7C456.0,347.0 456.2,350.5 455.0,352.2C453.8,353.9 451.3,354.1 449.4,355.0C447.5,355.9 446.2,357.6 443.8,357.8C441.2,358.0 437.1,356.9 434.4,356.0C431.7,355.1 429.1,353.9 427.8,352.2C426.6,350.5 426.6,348.1 426.9,345.6C427.2,343.1 428.1,339.9 429.7,337.2C431.3,334.5 433.8,332.0 436.2,329.7C438.8,327.4 442.0,325.8 444.7,323.1C447.4,320.4 450.2,317.2 452.2,313.8C454.2,310.3 456.0,305.8 456.9,302.5C457.8,299.2 457.9,296.0 457.8,294.0C457.7,292.0 456.2,291.7 456.5,290.3C456.8,288.9 458.6,287.2 459.7,285.6C460.8,284.1 462.0,282.0 463.4,281.0C464.8,280.0 465.7,279.7 468.0,279.5Z" fill="#e9c972"/><clipPath id="c13"><path d="M468.0,279.5C470.3,279.3 474.2,278.4 477.0,280.0C479.8,281.6 483.8,286.3 485.0,289.4C486.2,292.5 484.9,295.6 484.0,298.8C483.1,301.9 481.1,305.2 479.4,308.0C477.7,310.8 475.8,312.5 473.8,315.6C471.7,318.8 469.4,323.1 467.2,326.9C465.0,330.6 462.3,335.1 460.6,338.1C458.9,341.1 457.8,342.4 456.9,344.7C456.0,347.0 456.2,350.5 455.0,352.2C453.8,353.9 451.3,354.1 449.4,355.0C447.5,355.9 446.2,357.6 443.8,357.8C441.2,358.0 437.1,356.9 434.4,356.0C431.7,355.1 429.1,353.9 427.8,352.2C426.6,350.5 426.6,348.1 426.9,345.6C427.2,343.1 428.1,339.9 429.7,337.2C431.3,334.5 433.8,332.0 436.2,329.7C438.8,327.4 442.0,325.8 444.7,323.1C447.4,320.4 450.2,317.2 452.2,313.8C454.2,310.3 456.0,305.8 456.9,302.5C457.8,299.2 457.9,296.0 457.8,294.0C457.7,292.0 456.2,291.7 456.5,290.3C456.8,288.9 458.6,287.2 459.7,285.6C460.8,284.1 462.0,282.0 463.4,281.0C464.8,280.0 465.7,279.7 468.0,279.5Z"/></clipPath><g clip-path="url(#c13)"><path d="M469.6,284.1 L464.7,291.9 L463.5,301.6 L460.2,310.2 L455.8,318.2 L450.2,325.7 L443.1,332.3 L437.5,339.8 L433.0,347.8" fill="none" stroke="#f4df9e" stroke-opacity="0.80" stroke-width="7.2" stroke-linecap="round" stroke-linejoin="round" filter="url(#b12)"/><path d="M477.1,287.9 L473.4,296.3 L470.6,305.2 L466.2,313.2 L461.8,321.3 L456.6,328.9 L450.7,336.2 L446.2,344.2 L440.3,351.5" fill="none" stroke="#d9b65d" stroke-opacity="0.70" stroke-width="7.2" stroke-linecap="round" stroke-linejoin="round" filter="url(#b12)"/><circle cx="471.9" cy="296.9" r="2.8" fill="#f3dc96" stroke="#b8923f" stroke-width="0.9"/><circle cx="458.6" cy="290.8" r="2.3" fill="#f3dc96" stroke="#b8923f" stroke-width="0.9"/><rect x="425" y="277" width="63" height="83" filter="url(#wc)"/></g><path d="M468.0,279.5C470.3,279.3 474.2,278.4 477.0,280.0C479.8,281.6 483.8,286.3 485.0,289.4C486.2,292.5 484.9,295.6 484.0,298.8C483.1,301.9 481.1,305.2 479.4,308.0C477.7,310.8 475.8,312.5 473.8,315.6C471.7,318.8 469.4,323.1 467.2,326.9C465.0,330.6 462.3,335.1 460.6,338.1C458.9,341.1 457.8,342.4 456.9,344.7C456.0,347.0 456.2,350.5 455.0,352.2C453.8,353.9 451.3,354.1 449.4,355.0C447.5,355.9 446.2,357.6 443.8,357.8C441.2,358.0 437.1,356.9 434.4,356.0C431.7,355.1 429.1,353.9 427.8,352.2C426.6,350.5 426.6,348.1 426.9,345.6C427.2,343.1 428.1,339.9 429.7,337.2C431.3,334.5 433.8,332.0 436.2,329.7C438.8,327.4 442.0,325.8 444.7,323.1C447.4,320.4 450.2,317.2 452.2,313.8C454.2,310.3 456.0,305.8 456.9,302.5C457.8,299.2 457.9,296.0 457.8,294.0C457.7,292.0 456.2,291.7 456.5,290.3C456.8,288.9 458.6,287.2 459.7,285.6C460.8,284.1 462.0,282.0 463.4,281.0C464.8,280.0 465.7,279.7 468.0,279.5Z" fill="none" stroke="#111" stroke-width="1.6" stroke-linejoin="round"/></g>
<g><path d="M268.1,205.9C269.6,204.5 274.0,203.1 276.6,202.2C279.2,201.3 282.4,199.5 284.0,200.3C285.6,201.1 285.4,203.9 286.0,206.9C286.6,209.9 286.7,214.0 287.8,218.1C288.9,222.2 290.6,226.9 292.5,231.2C294.4,235.6 297.1,241.0 299.0,244.4C300.9,247.8 303.1,249.7 303.8,251.9C304.4,254.1 304.1,255.9 302.8,257.5C301.6,259.1 298.9,260.2 296.2,261.2C293.6,262.3 289.2,263.8 286.9,264.0C284.6,264.2 283.3,263.6 282.2,262.2C281.1,260.8 280.8,258.6 280.3,255.6C279.8,252.6 280.2,248.5 279.4,244.4C278.6,240.3 277.0,235.6 275.6,231.2C274.2,226.9 272.3,221.5 271.0,218.1C269.7,214.7 268.2,212.6 267.8,210.6C267.3,208.6 266.6,207.3 268.1,205.9Z" fill="#b3de86"/><clipPath id="c14"><path d="M268.1,205.9C269.6,204.5 274.0,203.1 276.6,202.2C279.2,201.3 282.4,199.5 284.0,200.3C285.6,201.1 285.4,203.9 286.0,206.9C286.6,209.9 286.7,214.0 287.8,218.1C288.9,222.2 290.6,226.9 292.5,231.2C294.4,235.6 297.1,241.0 299.0,244.4C300.9,247.8 303.1,249.7 303.8,251.9C304.4,254.1 304.1,255.9 302.8,257.5C301.6,259.1 298.9,260.2 296.2,261.2C293.6,262.3 289.2,263.8 286.9,264.0C284.6,264.2 283.3,263.6 282.2,262.2C281.1,260.8 280.8,258.6 280.3,255.6C279.8,252.6 280.2,248.5 279.4,244.4C278.6,240.3 277.0,235.6 275.6,231.2C274.2,226.9 272.3,221.5 271.0,218.1C269.7,214.7 268.2,212.6 267.8,210.6C267.3,208.6 266.6,207.3 268.1,205.9Z"/></clipPath><g clip-path="url(#c14)"><path d="M276.6,207.2 L278.4,213.5 L280.1,219.9 L282.1,226.1 L284.3,232.3 L286.6,238.5 L288.7,244.8 L290.7,251.1 L292.8,257.3" fill="none" stroke="#d6eebb" stroke-opacity="0.75" stroke-width="6.9" stroke-linecap="round" stroke-linejoin="round" filter="url(#b12)"/><rect x="265" y="198" width="41" height="68" filter="url(#wc)"/></g><path d="M268.1,205.9C269.6,204.5 274.0,203.1 276.6,202.2C279.2,201.3 282.4,199.5 284.0,200.3C285.6,201.1 285.4,203.9 286.0,206.9C286.6,209.9 286.7,214.0 287.8,218.1C288.9,222.2 290.6,226.9 292.5,231.2C294.4,235.6 297.1,241.0 299.0,244.4C300.9,247.8 303.1,249.7 303.8,251.9C304.4,254.1 304.1,255.9 302.8,257.5C301.6,259.1 298.9,260.2 296.2,261.2C293.6,262.3 289.2,263.8 286.9,264.0C284.6,264.2 283.3,263.6 282.2,262.2C281.1,260.8 280.8,258.6 280.3,255.6C279.8,252.6 280.2,248.5 279.4,244.4C278.6,240.3 277.0,235.6 275.6,231.2C274.2,226.9 272.3,221.5 271.0,218.1C269.7,214.7 268.2,212.6 267.8,210.6C267.3,208.6 266.6,207.3 268.1,205.9Z" fill="none" stroke="#111" stroke-width="1.6" stroke-linejoin="round"/></g>
<g><path d="M308.1,149.4C310.2,148.0 315.7,147.1 319.4,146.6C323.1,146.1 328.0,145.5 330.2,146.6C332.5,147.7 332.8,150.4 332.9,153.1C333.0,155.8 330.9,158.4 331.0,162.5C331.1,166.6 332.4,172.2 333.4,177.5C334.4,182.8 335.9,189.4 337.2,194.4C338.5,199.4 339.5,203.6 341.0,207.5C342.5,211.4 344.3,214.4 346.0,217.8C345.6,220.3 346.0,223.4 344.7,225.3C343.4,227.2 341.1,228.1 338.1,229.0C335.1,229.9 330.5,231.2 326.9,231.0C323.3,230.8 318.9,229.5 316.6,228.1C314.4,226.7 313.6,225.0 313.4,222.5C313.2,220.0 314.9,216.8 315.6,213.1C316.3,209.3 317.5,204.7 317.5,200.0C317.5,195.3 316.4,190.0 315.6,185.0C314.8,180.0 313.9,174.1 312.8,170.0C311.7,165.9 310.0,163.1 309.0,160.6C308.0,158.1 306.9,156.9 306.8,155.0C306.7,153.1 306.0,150.8 308.1,149.4Z" fill="#b3de86"/><clipPath id="c15"><path d="M308.1,149.4C310.2,148.0 315.7,147.1 319.4,146.6C323.1,146.1 328.0,145.5 330.2,146.6C332.5,147.7 332.8,150.4 332.9,153.1C333.0,155.8 330.9,158.4 331.0,162.5C331.1,166.6 332.4,172.2 333.4,177.5C334.4,182.8 335.9,189.4 337.2,194.4C338.5,199.4 339.5,203.6 341.0,207.5C342.5,211.4 344.3,214.4 346.0,217.8C345.6,220.3 346.0,223.4 344.7,225.3C343.4,227.2 341.1,228.1 338.1,229.0C335.1,229.9 330.5,231.2 326.9,231.0C323.3,230.8 318.9,229.5 316.6,228.1C314.4,226.7 313.6,225.0 313.4,222.5C313.2,220.0 314.9,216.8 315.6,213.1C316.3,209.3 317.5,204.7 317.5,200.0C317.5,195.3 316.4,190.0 315.6,185.0C314.8,180.0 313.9,174.1 312.8,170.0C311.7,165.9 310.0,163.1 309.0,160.6C308.0,158.1 306.9,156.9 306.8,155.0C306.7,153.1 306.0,150.8 308.1,149.4Z"/></clipPath><g clip-path="url(#c15)"><path d="M319.8,153.4 L320.8,162.2 L322.6,171.0 L324.3,179.7 L325.9,188.5 L327.5,197.3 L328.2,206.2 L328.9,215.1 L330.3,224.0" fill="none" stroke="#d6eebb" stroke-opacity="0.75" stroke-width="8.4" stroke-linecap="round" stroke-linejoin="round" filter="url(#b12)"/><rect x="305" y="144" width="43" height="89" filter="url(#wc)"/></g><path d="M308.1,149.4C310.2,148.0 315.7,147.1 319.4,146.6C323.1,146.1 328.0,145.5 330.2,146.6C332.5,147.7 332.8,150.4 332.9,153.1C333.0,155.8 330.9,158.4 331.0,162.5C331.1,166.6 332.4,172.2 333.4,177.5C334.4,182.8 335.9,189.4 337.2,194.4C338.5,199.4 339.5,203.6 341.0,207.5C342.5,211.4 344.3,214.4 346.0,217.8C345.6,220.3 346.0,223.4 344.7,225.3C343.4,227.2 341.1,228.1 338.1,229.0C335.1,229.9 330.5,231.2 326.9,231.0C323.3,230.8 318.9,229.5 316.6,228.1C314.4,226.7 313.6,225.0 313.4,222.5C313.2,220.0 314.9,216.8 315.6,213.1C316.3,209.3 317.5,204.7 317.5,200.0C317.5,195.3 316.4,190.0 315.6,185.0C314.8,180.0 313.9,174.1 312.8,170.0C311.7,165.9 310.0,163.1 309.0,160.6C308.0,158.1 306.9,156.9 306.8,155.0C306.7,153.1 306.0,150.8 308.1,149.4Z" fill="none" stroke="#111" stroke-width="1.6" stroke-linejoin="round"/></g>
<g><path d="M364.0,118.4C365.9,117.0 370.6,116.6 374.4,116.6C378.2,116.6 384.4,117.0 386.6,118.4C388.9,119.8 388.1,122.0 387.9,125.0C387.7,128.0 386.0,131.9 385.6,136.2C385.2,140.6 385.1,146.2 385.2,151.2C385.4,156.2 385.9,161.2 386.6,166.2C387.3,171.2 388.3,176.6 389.4,181.2C390.5,185.9 392.2,191.0 393.1,194.4C394.0,197.8 394.9,199.6 394.6,201.9C394.3,204.2 394.3,207.2 391.2,208.4C388.2,209.7 380.8,209.6 376.2,209.4C371.7,209.2 366.8,208.8 364.0,207.5C361.2,206.2 360.2,204.4 359.8,201.9C359.3,199.4 360.4,195.9 361.2,192.5C362.1,189.1 364.2,185.6 365.0,181.2C365.8,176.9 365.8,171.2 365.9,166.2C366.0,161.2 365.6,156.2 365.4,151.2C365.2,146.2 365.0,140.6 364.6,136.2C364.2,131.9 362.9,128.0 362.8,125.0C362.6,122.0 362.1,119.8 364.0,118.4Z" fill="#b3de86"/><clipPath id="c16"><path d="M364.0,118.4C365.9,117.0 370.6,116.6 374.4,116.6C378.2,116.6 384.4,117.0 386.6,118.4C388.9,119.8 388.1,122.0 387.9,125.0C387.7,128.0 386.0,131.9 385.6,136.2C385.2,140.6 385.1,146.2 385.2,151.2C385.4,156.2 385.9,161.2 386.6,166.2C387.3,171.2 388.3,176.6 389.4,181.2C390.5,185.9 392.2,191.0 393.1,194.4C394.0,197.8 394.9,199.6 394.6,201.9C394.3,204.2 394.3,207.2 391.2,208.4C388.2,209.7 380.8,209.6 376.2,209.4C371.7,209.2 366.8,208.8 364.0,207.5C361.2,206.2 360.2,204.4 359.8,201.9C359.3,199.4 360.4,195.9 361.2,192.5C362.1,189.1 364.2,185.6 365.0,181.2C365.8,176.9 365.8,171.2 365.9,166.2C366.0,161.2 365.6,156.2 365.4,151.2C365.2,146.2 365.0,140.6 364.6,136.2C364.2,131.9 362.9,128.0 362.8,125.0C362.6,122.0 362.1,119.8 364.0,118.4Z"/></clipPath><g clip-path="url(#c16)"><path d="M375.4,124.0 L375.2,133.8 L375.2,143.6 L375.4,153.3 L376.0,163.1 L376.7,172.9 L377.1,182.6 L376.8,192.4 L377.3,202.2" fill="none" stroke="#d6eebb" stroke-opacity="0.75" stroke-width="8.7" stroke-linecap="round" stroke-linejoin="round" filter="url(#b12)"/><rect x="358" y="115" width="39" height="97" filter="url(#wc)"/></g><path d="M364.0,118.4C365.9,117.0 370.6,116.6 374.4,116.6C378.2,116.6 384.4,117.0 386.6,118.4C388.9,119.8 388.1,122.0 387.9,125.0C387.7,128.0 386.0,131.9 385.6,136.2C385.2,140.6 385.1,146.2 385.2,151.2C385.4,156.2 385.9,161.2 386.6,166.2C387.3,171.2 388.3,176.6 389.4,181.2C390.5,185.9 392.2,191.0 393.1,194.4C394.0,197.8 394.9,199.6 394.6,201.9C394.3,204.2 394.3,207.2 391.2,208.4C388.2,209.7 380.8,209.6 376.2,209.4C371.7,209.2 366.8,208.8 364.0,207.5C361.2,206.2 360.2,204.4 359.8,201.9C359.3,199.4 360.4,195.9 361.2,192.5C362.1,189.1 364.2,185.6 365.0,181.2C365.8,176.9 365.8,171.2 365.9,166.2C366.0,161.2 365.6,156.2 365.4,151.2C365.2,146.2 365.0,140.6 364.6,136.2C364.2,131.9 362.9,128.0 362.8,125.0C362.6,122.0 362.1,119.8 364.0,118.4Z" fill="none" stroke="#111" stroke-width="1.6" stroke-linejoin="round"/></g>
<g><path d="M425.9,133.1C427.8,131.7 432.6,132.3 436.2,132.2C439.9,132.0 445.6,131.1 447.9,132.2C450.2,133.3 450.2,135.8 450.3,138.8C450.4,141.7 449.2,145.9 448.4,150.0C447.6,154.1 446.4,158.7 445.6,163.1C444.8,167.5 444.1,171.9 443.8,176.2C443.4,180.6 443.1,185.3 443.4,189.4C443.7,193.5 445.2,197.2 445.6,200.6C446.0,204.0 446.6,207.3 446.0,210.0C445.4,212.7 444.1,216.0 441.9,216.6C439.6,217.2 436.2,214.5 432.5,213.8C428.8,213.0 422.5,212.8 419.4,211.9C416.3,211.0 414.8,209.7 413.8,208.1C412.8,206.5 412.6,205.0 413.4,202.5C414.2,200.0 416.9,196.8 418.4,193.1C419.9,189.3 421.3,184.4 422.2,180.0C423.1,175.6 423.5,171.3 424.0,166.9C424.5,162.5 424.9,158.1 425.0,153.8C425.1,149.4 424.5,144.0 424.6,140.6C424.8,137.2 424.0,134.5 425.9,133.1Z" fill="#b3de86"/><clipPath id="c17"><path d="M425.9,133.1C427.8,131.7 432.6,132.3 436.2,132.2C439.9,132.0 445.6,131.1 447.9,132.2C450.2,133.3 450.2,135.8 450.3,138.8C450.4,141.7 449.2,145.9 448.4,150.0C447.6,154.1 446.4,158.7 445.6,163.1C444.8,167.5 444.1,171.9 443.8,176.2C443.4,180.6 443.1,185.3 443.4,189.4C443.7,193.5 445.2,197.2 445.6,200.6C446.0,204.0 446.6,207.3 446.0,210.0C445.4,212.7 444.1,216.0 441.9,216.6C439.6,217.2 436.2,214.5 432.5,213.8C428.8,213.0 422.5,212.8 419.4,211.9C416.3,211.0 414.8,209.7 413.8,208.1C412.8,206.5 412.6,205.0 413.4,202.5C414.2,200.0 416.9,196.8 418.4,193.1C419.9,189.3 421.3,184.4 422.2,180.0C423.1,175.6 423.5,171.3 424.0,166.9C424.5,162.5 424.9,158.1 425.0,153.8C425.1,149.4 424.5,144.0 424.6,140.6C424.8,137.2 424.0,134.5 425.9,133.1Z"/></clipPath><g clip-path="url(#c17)"><path d="M437.4,137.6 L436.8,146.5 L436.0,155.4 L434.8,164.2 L433.7,173.1 L432.7,181.9 L431.8,190.8 L430.8,199.6 L429.5,208.5" fill="none" stroke="#d6eebb" stroke-opacity="0.75" stroke-width="9.7" stroke-linecap="round" stroke-linejoin="round" filter="url(#b12)"/><rect x="411" y="130" width="41" height="89" filter="url(#wc)"/></g><path d="M425.9,133.1C427.8,131.7 432.6,132.3 436.2,132.2C439.9,132.0 445.6,131.1 447.9,132.2C450.2,133.3 450.2,135.8 450.3,138.8C450.4,141.7 449.2,145.9 448.4,150.0C447.6,154.1 446.4,158.7 445.6,163.1C444.8,167.5 444.1,171.9 443.8,176.2C443.4,180.6 443.1,185.3 443.4,189.4C443.7,193.5 445.2,197.2 445.6,200.6C446.0,204.0 446.6,207.3 446.0,210.0C445.4,212.7 444.1,216.0 441.9,216.6C439.6,217.2 436.2,214.5 432.5,213.8C428.8,213.0 422.5,212.8 419.4,211.9C416.3,211.0 414.8,209.7 413.8,208.1C412.8,206.5 412.6,205.0 413.4,202.5C414.2,200.0 416.9,196.8 418.4,193.1C419.9,189.3 421.3,184.4 422.2,180.0C423.1,175.6 423.5,171.3 424.0,166.9C424.5,162.5 424.9,158.1 425.0,153.8C425.1,149.4 424.5,144.0 424.6,140.6C424.8,137.2 424.0,134.5 425.9,133.1Z" fill="none" stroke="#111" stroke-width="1.6" stroke-linejoin="round"/></g>
<g><path d="M484.5,219.5C486.5,217.5 490.9,217.2 494.4,217.5C497.9,217.8 504.1,218.6 505.6,221.0C507.1,223.4 504.4,228.4 503.3,232.0C502.2,235.6 500.2,238.6 499.0,242.5C497.8,246.4 497.2,250.9 496.2,255.6C495.3,260.3 494.0,266.9 493.4,270.6C492.8,274.3 493.3,276.0 492.5,278.0C491.7,280.0 490.6,282.5 488.8,282.8C486.9,283.1 484.4,280.9 481.2,280.0C478.1,279.1 472.7,278.3 470.0,277.2C467.3,276.1 466.2,275.1 465.3,273.4C464.4,271.7 463.9,268.9 464.4,266.9C464.8,264.9 466.1,263.8 468.0,261.2C469.9,258.8 473.4,255.3 475.6,251.9C477.8,248.5 479.9,244.3 481.0,240.6C482.1,236.8 481.8,232.9 482.4,229.4C483.0,225.9 482.5,221.5 484.5,219.5Z" fill="#b3de86"/><clipPath id="c18"><path d="M484.5,219.5C486.5,217.5 490.9,217.2 494.4,217.5C497.9,217.8 504.1,218.6 505.6,221.0C507.1,223.4 504.4,228.4 503.3,232.0C502.2,235.6 500.2,238.6 499.0,242.5C497.8,246.4 497.2,250.9 496.2,255.6C495.3,260.3 494.0,266.9 493.4,270.6C492.8,274.3 493.3,276.0 492.5,278.0C491.7,280.0 490.6,282.5 488.8,282.8C486.9,283.1 484.4,280.9 481.2,280.0C478.1,279.1 472.7,278.3 470.0,277.2C467.3,276.1 466.2,275.1 465.3,273.4C464.4,271.7 463.9,268.9 464.4,266.9C464.8,264.9 466.1,263.8 468.0,261.2C469.9,258.8 473.4,255.3 475.6,251.9C477.8,248.5 479.9,244.3 481.0,240.6C482.1,236.8 481.8,232.9 482.4,229.4C483.0,225.9 482.5,221.5 484.5,219.5Z"/></clipPath><g clip-path="url(#c18)"><path d="M495.6,222.1 L493.0,228.6 L491.3,235.3 L489.9,242.0 L488.0,248.7 L485.7,255.2 L482.8,261.5 L479.8,267.7 L478.2,274.4" fill="none" stroke="#d6eebb" stroke-opacity="0.75" stroke-width="8.5" stroke-linecap="round" stroke-linejoin="round" filter="url(#b12)"/><rect x="462" y="215" width="46" height="69" filter="url(#wc)"/></g><path d="M484.5,219.5C486.5,217.5 490.9,217.2 494.4,217.5C497.9,217.8 504.1,218.6 505.6,221.0C507.1,223.4 504.4,228.4 503.3,232.0C502.2,235.6 500.2,238.6 499.0,242.5C497.8,246.4 497.2,250.9 496.2,255.6C495.3,260.3 494.0,266.9 493.4,270.6C492.8,274.3 493.3,276.0 492.5,278.0C491.7,280.0 490.6,282.5 488.8,282.8C486.9,283.1 484.4,280.9 481.2,280.0C478.1,279.1 472.7,278.3 470.0,277.2C467.3,276.1 466.2,275.1 465.3,273.4C464.4,271.7 463.9,268.9 464.4,266.9C464.8,264.9 466.1,263.8 468.0,261.2C469.9,258.8 473.4,255.3 475.6,251.9C477.8,248.5 479.9,244.3 481.0,240.6C482.1,236.8 481.8,232.9 482.4,229.4C483.0,225.9 482.5,221.5 484.5,219.5Z" fill="none" stroke="#111" stroke-width="1.6" stroke-linejoin="round"/></g>
<g><path d="M259.4,168.8C260.6,167.5 265.2,165.8 267.5,165.0C269.8,164.2 271.8,162.9 273.1,163.8C274.5,164.6 274.9,167.3 275.6,170.0C276.3,172.7 276.6,176.8 277.5,180.0C278.4,183.2 280.0,187.1 281.2,189.4C282.5,191.7 284.7,192.4 285.0,194.0C285.3,195.6 284.6,197.5 283.0,198.8C281.4,200.0 278.4,201.3 275.6,201.6C272.8,201.9 268.3,201.7 266.2,200.6C264.2,199.5 263.5,197.4 263.4,195.0C263.3,192.6 265.5,189.0 265.6,186.2C265.7,183.5 264.7,181.0 263.8,178.8C262.8,176.5 260.7,174.2 260.0,172.5C259.3,170.8 258.1,170.0 259.4,168.8Z" fill="#94c0e8"/><clipPath id="c19"><path d="M259.4,168.8C260.6,167.5 265.2,165.8 267.5,165.0C269.8,164.2 271.8,162.9 273.1,163.8C274.5,164.6 274.9,167.3 275.6,170.0C276.3,172.7 276.6,176.8 277.5,180.0C278.4,183.2 280.0,187.1 281.2,189.4C282.5,191.7 284.7,192.4 285.0,194.0C285.3,195.6 284.6,197.5 283.0,198.8C281.4,200.0 278.4,201.3 275.6,201.6C272.8,201.9 268.3,201.7 266.2,200.6C264.2,199.5 263.5,197.4 263.4,195.0C263.3,192.6 265.5,189.0 265.6,186.2C265.7,183.5 264.7,181.0 263.8,178.8C262.8,176.5 260.7,174.2 260.0,172.5C259.3,170.8 258.1,170.0 259.4,168.8Z"/></clipPath><g clip-path="url(#c19)"><path d="M268.3,167.7 L269.7,171.4 L271.1,175.2 L272.1,179.0 L273.0,182.9 L273.4,186.9 L273.9,191.0 L275.7,194.5 L278.3,197.9" fill="none" stroke="#c4dff6" stroke-opacity="0.80" stroke-width="6.9" stroke-linecap="round" stroke-linejoin="round" filter="url(#b12)"/><path d="M262.2,169.8 L264.0,173.4 L265.9,176.9 L267.2,180.7 L268.0,184.6 L267.6,188.9 L266.9,193.3 L268.0,197.1 L271.6,200.1" fill="none" stroke="#74abe0" stroke-opacity="0.70" stroke-width="5.4" stroke-linecap="round" stroke-linejoin="round" filter="url(#b15)"/><rect x="257" y="161" width="30" height="42" filter="url(#wc)"/></g><path d="M259.4,168.8C260.6,167.5 265.2,165.8 267.5,165.0C269.8,164.2 271.8,162.9 273.1,163.8C274.5,164.6 274.9,167.3 275.6,170.0C276.3,172.7 276.6,176.8 277.5,180.0C278.4,183.2 280.0,187.1 281.2,189.4C282.5,191.7 284.7,192.4 285.0,194.0C285.3,195.6 284.6,197.5 283.0,198.8C281.4,200.0 278.4,201.3 275.6,201.6C272.8,201.9 268.3,201.7 266.2,200.6C264.2,199.5 263.5,197.4 263.4,195.0C263.3,192.6 265.5,189.0 265.6,186.2C265.7,183.5 264.7,181.0 263.8,178.8C262.8,176.5 260.7,174.2 260.0,172.5C259.3,170.8 258.1,170.0 259.4,168.8Z" fill="none" stroke="#111" stroke-width="1.6" stroke-linejoin="round"/></g>
<g><path d="M303.1,83.0C304.8,81.7 308.4,82.8 311.2,82.8C314.1,82.8 318.0,81.7 320.0,82.8C322.0,83.8 322.7,86.7 323.1,89.2C323.5,91.8 322.5,94.9 322.5,98.0C322.5,101.1 322.7,104.5 323.1,108.0C323.5,111.5 324.2,115.7 325.0,119.2C325.8,122.8 327.1,126.5 328.1,129.2C329.1,132.0 330.7,133.6 331.2,135.5C331.8,137.4 331.8,138.9 331.2,140.5C330.7,142.1 330.4,144.0 328.1,144.9C325.8,145.8 321.0,146.0 317.5,146.1C314.0,146.2 309.3,146.2 306.9,145.5C304.5,144.8 303.6,143.6 303.1,141.8C302.6,139.9 303.3,137.0 303.8,134.2C304.2,131.5 305.3,128.6 305.6,125.5C305.9,122.4 305.8,118.6 305.6,115.5C305.4,112.4 305.0,109.5 304.4,106.8C303.8,104.0 302.4,102.0 301.9,99.2C301.4,96.5 301.1,93.2 301.2,90.5C301.4,87.8 301.4,84.3 303.1,83.0Z" fill="#94c0e8"/><clipPath id="c20"><path d="M303.1,83.0C304.8,81.7 308.4,82.8 311.2,82.8C314.1,82.8 318.0,81.7 320.0,82.8C322.0,83.8 322.7,86.7 323.1,89.2C323.5,91.8 322.5,94.9 322.5,98.0C322.5,101.1 322.7,104.5 323.1,108.0C323.5,111.5 324.2,115.7 325.0,119.2C325.8,122.8 327.1,126.5 328.1,129.2C329.1,132.0 330.7,133.6 331.2,135.5C331.8,137.4 331.8,138.9 331.2,140.5C330.7,142.1 330.4,144.0 328.1,144.9C325.8,145.8 321.0,146.0 317.5,146.1C314.0,146.2 309.3,146.2 306.9,145.5C304.5,144.8 303.6,143.6 303.1,141.8C302.6,139.9 303.3,137.0 303.8,134.2C304.2,131.5 305.3,128.6 305.6,125.5C305.9,122.4 305.8,118.6 305.6,115.5C305.4,112.4 305.0,109.5 304.4,106.8C303.8,104.0 302.4,102.0 301.9,99.2C301.4,96.5 301.1,93.2 301.2,90.5C301.4,87.8 301.4,84.3 303.1,83.0Z"/></clipPath><g clip-path="url(#c20)"><path d="M313.8,86.4 L314.4,93.3 L314.6,100.2 L315.6,107.0 L316.5,113.8 L317.4,120.6 L318.2,127.4 L319.3,134.2 L320.4,141.0" fill="none" stroke="#c4dff6" stroke-opacity="0.80" stroke-width="9.4" stroke-linecap="round" stroke-linejoin="round" filter="url(#b12)"/><path d="M305.5,87.6 L305.7,94.5 L306.6,101.3 L308.4,108.0 L309.2,114.8 L309.6,121.7 L309.3,128.7 L308.7,135.7 L309.3,142.5" fill="none" stroke="#74abe0" stroke-opacity="0.70" stroke-width="7.3" stroke-linecap="round" stroke-linejoin="round" filter="url(#b15)"/><rect x="299" y="80" width="34" height="68" filter="url(#wc)"/></g><path d="M303.1,83.0C304.8,81.7 308.4,82.8 311.2,82.8C314.1,82.8 318.0,81.7 320.0,82.8C322.0,83.8 322.7,86.7 323.1,89.2C323.5,91.8 322.5,94.9 322.5,98.0C322.5,101.1 322.7,104.5 323.1,108.0C323.5,111.5 324.2,115.7 325.0,119.2C325.8,122.8 327.1,126.5 328.1,129.2C329.1,132.0 330.7,133.6 331.2,135.5C331.8,137.4 331.8,138.9 331.2,140.5C330.7,142.1 330.4,144.0 328.1,144.9C325.8,145.8 321.0,146.0 317.5,146.1C314.0,146.2 309.3,146.2 306.9,145.5C304.5,144.8 303.6,143.6 303.1,141.8C302.6,139.9 303.3,137.0 303.8,134.2C304.2,131.5 305.3,128.6 305.6,125.5C305.9,122.4 305.8,118.6 305.6,115.5C305.4,112.4 305.0,109.5 304.4,106.8C303.8,104.0 302.4,102.0 301.9,99.2C301.4,96.5 301.1,93.2 301.2,90.5C301.4,87.8 301.4,84.3 303.1,83.0Z" fill="none" stroke="#111" stroke-width="1.6" stroke-linejoin="round"/></g>
<g><path d="M363.1,56.9C364.8,56.3 368.2,56.4 371.2,56.2C374.3,56.1 379.4,55.2 381.2,56.0C383.1,56.8 382.5,58.9 382.5,61.2C382.5,63.6 381.1,67.1 381.0,70.0C380.9,72.9 381.4,75.6 381.9,78.8C382.4,81.9 383.1,85.4 383.8,88.8C384.4,92.1 384.7,95.8 385.6,98.8C386.5,101.7 388.7,104.2 389.4,106.2C390.1,108.3 390.2,109.8 389.8,111.2C389.3,112.7 389.1,114.5 386.9,115.0C384.6,115.5 379.9,114.3 376.2,114.3C372.6,114.3 367.4,115.5 365.0,115.0C362.6,114.5 362.4,112.9 361.9,111.2C361.4,109.6 361.9,107.3 362.2,105.0C362.6,102.7 363.5,100.4 363.8,97.5C364.0,94.6 363.8,90.8 363.8,87.5C363.8,84.2 364.0,80.2 363.8,77.5C363.5,74.8 363.0,73.1 362.5,71.2C362.0,69.4 360.8,68.1 360.6,66.2C360.4,64.4 360.8,61.6 361.2,60.0C361.7,58.4 361.4,57.5 363.1,56.9Z" fill="#94c0e8"/><clipPath id="c21"><path d="M363.1,56.9C364.8,56.3 368.2,56.4 371.2,56.2C374.3,56.1 379.4,55.2 381.2,56.0C383.1,56.8 382.5,58.9 382.5,61.2C382.5,63.6 381.1,67.1 381.0,70.0C380.9,72.9 381.4,75.6 381.9,78.8C382.4,81.9 383.1,85.4 383.8,88.8C384.4,92.1 384.7,95.8 385.6,98.8C386.5,101.7 388.7,104.2 389.4,106.2C390.1,108.3 390.2,109.8 389.8,111.2C389.3,112.7 389.1,114.5 386.9,115.0C384.6,115.5 379.9,114.3 376.2,114.3C372.6,114.3 367.4,115.5 365.0,115.0C362.6,114.5 362.4,112.9 361.9,111.2C361.4,109.6 361.9,107.3 362.2,105.0C362.6,102.7 363.5,100.4 363.8,97.5C364.0,94.6 363.8,90.8 363.8,87.5C363.8,84.2 364.0,80.2 363.8,77.5C363.5,74.8 363.0,73.1 362.5,71.2C362.0,69.4 360.8,68.1 360.6,66.2C360.4,64.4 360.8,61.6 361.2,60.0C361.7,58.4 361.4,57.5 363.1,56.9Z"/></clipPath><g clip-path="url(#c21)"><path d="M373.9,60.2 L373.6,66.7 L374.0,73.1 L374.7,79.5 L375.3,85.8 L376.0,92.2 L376.4,98.6 L377.6,104.9 L379.1,111.2" fill="none" stroke="#c4dff6" stroke-opacity="0.80" stroke-width="9.3" stroke-linecap="round" stroke-linejoin="round" filter="url(#b12)"/><path d="M365.2,61.4 L365.4,67.8 L366.9,74.1 L367.4,80.5 L367.6,86.9 L367.9,93.3 L367.7,99.8 L367.2,106.4 L368.1,112.7" fill="none" stroke="#74abe0" stroke-opacity="0.70" stroke-width="7.2" stroke-linecap="round" stroke-linejoin="round" filter="url(#b15)"/><rect x="359" y="54" width="33" height="63" filter="url(#wc)"/></g><path d="M363.1,56.9C364.8,56.3 368.2,56.4 371.2,56.2C374.3,56.1 379.4,55.2 381.2,56.0C383.1,56.8 382.5,58.9 382.5,61.2C382.5,63.6 381.1,67.1 381.0,70.0C380.9,72.9 381.4,75.6 381.9,78.8C382.4,81.9 383.1,85.4 383.8,88.8C384.4,92.1 384.7,95.8 385.6,98.8C386.5,101.7 388.7,104.2 389.4,106.2C390.1,108.3 390.2,109.8 389.8,111.2C389.3,112.7 389.1,114.5 386.9,115.0C384.6,115.5 379.9,114.3 376.2,114.3C372.6,114.3 367.4,115.5 365.0,115.0C362.6,114.5 362.4,112.9 361.9,111.2C361.4,109.6 361.9,107.3 362.2,105.0C362.6,102.7 363.5,100.4 363.8,97.5C364.0,94.6 363.8,90.8 363.8,87.5C363.8,84.2 364.0,80.2 363.8,77.5C363.5,74.8 363.0,73.1 362.5,71.2C362.0,69.4 360.8,68.1 360.6,66.2C360.4,64.4 360.8,61.6 361.2,60.0C361.7,58.4 361.4,57.5 363.1,56.9Z" fill="none" stroke="#111" stroke-width="1.6" stroke-linejoin="round"/></g>
<g><path d="M430.0,77.5C431.6,76.3 435.9,77.9 438.8,77.7C441.6,77.5 445.2,75.7 446.9,76.2C448.6,76.8 448.6,79.2 448.8,81.2C448.9,83.3 448.0,86.0 447.5,88.8C447.0,91.5 445.7,94.4 445.6,97.5C445.5,100.6 446.3,104.4 446.9,107.5C447.5,110.6 448.6,113.8 449.4,116.2C450.2,118.8 451.6,120.5 451.9,122.5C452.2,124.5 452.2,126.6 451.2,128.1C450.3,129.6 448.5,130.7 446.2,131.2C444.0,131.8 440.4,131.5 437.5,131.2C434.6,131.0 430.9,130.8 428.8,130.0C426.6,129.2 425.1,127.9 424.4,126.2C423.7,124.6 423.8,122.3 424.4,120.0C425.0,117.7 427.1,115.4 428.1,112.5C429.1,109.6 430.2,105.8 430.6,102.5C431.0,99.2 430.8,95.4 430.6,92.5C430.4,89.6 429.5,87.5 429.4,85.0C429.3,82.5 428.4,78.7 430.0,77.5Z" fill="#94c0e8"/><clipPath id="c22"><path d="M430.0,77.5C431.6,76.3 435.9,77.9 438.8,77.7C441.6,77.5 445.2,75.7 446.9,76.2C448.6,76.8 448.6,79.2 448.8,81.2C448.9,83.3 448.0,86.0 447.5,88.8C447.0,91.5 445.7,94.4 445.6,97.5C445.5,100.6 446.3,104.4 446.9,107.5C447.5,110.6 448.6,113.8 449.4,116.2C450.2,118.8 451.6,120.5 451.9,122.5C452.2,124.5 452.2,126.6 451.2,128.1C450.3,129.6 448.5,130.7 446.2,131.2C444.0,131.8 440.4,131.5 437.5,131.2C434.6,131.0 430.9,130.8 428.8,130.0C426.6,129.2 425.1,127.9 424.4,126.2C423.7,124.6 423.8,122.3 424.4,120.0C425.0,117.7 427.1,115.4 428.1,112.5C429.1,109.6 430.2,105.8 430.6,102.5C431.0,99.2 430.8,95.4 430.6,92.5C430.4,89.6 429.5,87.5 429.4,85.0C429.3,82.5 428.4,78.7 430.0,77.5Z"/></clipPath><g clip-path="url(#c22)"><path d="M440.9,80.4 L440.6,86.3 L440.2,92.1 L439.7,97.9 L439.9,103.7 L440.1,109.6 L440.3,115.4 L440.7,121.2 L440.8,127.1" fill="none" stroke="#c4dff6" stroke-opacity="0.80" stroke-width="8.3" stroke-linecap="round" stroke-linejoin="round" filter="url(#b12)"/><path d="M433.0,80.2 L433.2,86.1 L433.7,91.9 L433.8,97.7 L433.6,103.6 L432.8,109.4 L431.4,115.2 L429.7,120.9 L430.0,126.8" fill="none" stroke="#74abe0" stroke-opacity="0.70" stroke-width="6.5" stroke-linecap="round" stroke-linejoin="round" filter="url(#b15)"/><rect x="422" y="74" width="32" height="59" filter="url(#wc)"/></g><path d="M430.0,77.5C431.6,76.3 435.9,77.9 438.8,77.7C441.6,77.5 445.2,75.7 446.9,76.2C448.6,76.8 448.6,79.2 448.8,81.2C448.9,83.3 448.0,86.0 447.5,88.8C447.0,91.5 445.7,94.4 445.6,97.5C445.5,100.6 446.3,104.4 446.9,107.5C447.5,110.6 448.6,113.8 449.4,116.2C450.2,118.8 451.6,120.5 451.9,122.5C452.2,124.5 452.2,126.6 451.2,128.1C450.3,129.6 448.5,130.7 446.2,131.2C444.0,131.8 440.4,131.5 437.5,131.2C434.6,131.0 430.9,130.8 428.8,130.0C426.6,129.2 425.1,127.9 424.4,126.2C423.7,124.6 423.8,122.3 424.4,120.0C425.0,117.7 427.1,115.4 428.1,112.5C429.1,109.6 430.2,105.8 430.6,102.5C431.0,99.2 430.8,95.4 430.6,92.5C430.4,89.6 429.5,87.5 429.4,85.0C429.3,82.5 428.4,78.7 430.0,77.5Z" fill="none" stroke="#111" stroke-width="1.6" stroke-linejoin="round"/></g>
<g><path d="M256.2,132.5C257.3,131.9 259.2,131.4 260.6,131.5C262.0,131.6 263.4,132.1 264.4,133.1C265.4,134.1 266.0,135.8 266.5,137.5C267.0,139.2 267.5,141.8 267.5,143.1C267.5,144.3 266.7,144.4 266.2,145.0C265.8,145.2 265.2,145.4 264.8,145.6C265.2,147.1 265.4,148.4 266.2,150.0C267.1,151.6 268.9,154.0 270.0,155.0C271.1,156.0 272.4,155.4 273.1,156.2C273.8,157.1 274.6,158.9 274.4,160.0C274.2,161.1 273.5,162.2 271.9,163.1C270.3,164.0 267.2,165.0 265.0,165.6C262.8,166.2 260.2,166.9 258.8,166.9C257.3,166.9 257.0,166.7 256.5,165.6C256.0,164.5 255.3,161.9 255.6,160.6C255.9,159.2 257.4,158.6 258.1,157.5C258.8,156.4 259.8,155.3 260.0,153.8C260.2,152.2 259.6,150.0 259.4,148.1C258.1,147.8 256.9,147.5 255.6,147.2C255.1,146.1 254.4,145.2 254.1,143.8C253.8,142.3 253.7,140.2 253.8,138.8C253.8,137.3 254.0,136.0 254.4,135.0C254.8,134.0 255.2,133.1 256.2,132.5Z" fill="#f49a74"/><clipPath id="c23"><path d="M256.2,132.5C257.3,131.9 259.2,131.4 260.6,131.5C262.0,131.6 263.4,132.1 264.4,133.1C265.4,134.1 266.0,135.8 266.5,137.5C267.0,139.2 267.5,141.8 267.5,143.1C267.5,144.3 266.7,144.4 266.2,145.0C265.8,145.2 265.2,145.4 264.8,145.6C265.2,147.1 265.4,148.4 266.2,150.0C267.1,151.6 268.9,154.0 270.0,155.0C271.1,156.0 272.4,155.4 273.1,156.2C273.8,157.1 274.6,158.9 274.4,160.0C274.2,161.1 273.5,162.2 271.9,163.1C270.3,164.0 267.2,165.0 265.0,165.6C262.8,166.2 260.2,166.9 258.8,166.9C257.3,166.9 257.0,166.7 256.5,165.6C256.0,164.5 255.3,161.9 255.6,160.6C255.9,159.2 257.4,158.6 258.1,157.5C258.8,156.4 259.8,155.3 260.0,153.8C260.2,152.2 259.6,150.0 259.4,148.1C258.1,147.8 256.9,147.5 255.6,147.2C255.1,146.1 254.4,145.2 254.1,143.8C253.8,142.3 253.7,140.2 253.8,138.8C253.8,137.3 254.0,136.0 254.4,135.0C254.8,134.0 255.2,133.1 256.2,132.5Z"/></clipPath><g clip-path="url(#c23)"><path d="M258.9,134.4 L259.4,138.1 L259.9,141.7 L260.6,145.3 L262.2,148.7 L263.2,152.2 L263.5,155.8 L263.8,159.5 L264.2,163.1" fill="none" stroke="#fac6ab" stroke-opacity="0.70" stroke-width="5.2" stroke-linecap="round" stroke-linejoin="round" filter="url(#b12)"/><rect x="252" y="129" width="25" height="39" filter="url(#wc)"/></g><path d="M256.2,132.5C257.3,131.9 259.2,131.4 260.6,131.5C262.0,131.6 263.4,132.1 264.4,133.1C265.4,134.1 266.0,135.8 266.5,137.5C267.0,139.2 267.5,141.8 267.5,143.1C267.5,144.3 266.7,144.4 266.2,145.0C265.8,145.2 265.2,145.4 264.8,145.6C265.2,147.1 265.4,148.4 266.2,150.0C267.1,151.6 268.9,154.0 270.0,155.0C271.1,156.0 272.4,155.4 273.1,156.2C273.8,157.1 274.6,158.9 274.4,160.0C274.2,161.1 273.5,162.2 271.9,163.1C270.3,164.0 267.2,165.0 265.0,165.6C262.8,166.2 260.2,166.9 258.8,166.9C257.3,166.9 257.0,166.7 256.5,165.6C256.0,164.5 255.3,161.9 255.6,160.6C255.9,159.2 257.4,158.6 258.1,157.5C258.8,156.4 259.8,155.3 260.0,153.8C260.2,152.2 259.6,150.0 259.4,148.1C258.1,147.8 256.9,147.5 255.6,147.2C255.1,146.1 254.4,145.2 254.1,143.8C253.8,142.3 253.7,140.2 253.8,138.8C253.8,137.3 254.0,136.0 254.4,135.0C254.8,134.0 255.2,133.1 256.2,132.5Z" fill="none" stroke="#111" stroke-width="1.6" stroke-linejoin="round"/></g>
<g><path d="M310.6,43.1C312.1,43.3 314.4,44.2 315.6,45.6C316.9,47.0 317.7,49.5 318.1,51.2C318.5,53.0 318.1,54.6 318.1,56.2C317.3,56.5 316.4,56.7 315.6,56.9C315.8,59.2 315.6,61.6 316.2,63.8C316.9,65.9 318.3,68.2 319.4,70.0C320.5,71.8 322.5,73.1 323.1,74.4C323.7,75.8 323.6,77.0 323.1,78.1C322.6,79.2 322.0,80.5 320.0,81.2C318.0,82.0 314.1,82.6 311.2,82.5C308.4,82.4 305.1,81.3 303.1,80.6C301.1,79.9 299.9,79.1 299.4,78.1C298.9,77.1 299.3,75.7 300.0,74.4C300.7,73.2 302.8,72.2 303.8,70.6C304.7,69.0 305.3,67.1 305.6,65.0C305.9,62.9 305.6,60.4 305.6,58.1C304.6,58.1 303.5,58.1 302.5,58.1C302.4,56.6 302.0,55.4 302.2,53.8C302.5,52.1 303.0,49.7 303.8,48.1C304.5,46.5 305.8,45.2 306.9,44.4C308.0,43.6 309.2,42.9 310.6,43.1Z" fill="#f49a74"/><clipPath id="c24"><path d="M310.6,43.1C312.1,43.3 314.4,44.2 315.6,45.6C316.9,47.0 317.7,49.5 318.1,51.2C318.5,53.0 318.1,54.6 318.1,56.2C317.3,56.5 316.4,56.7 315.6,56.9C315.8,59.2 315.6,61.6 316.2,63.8C316.9,65.9 318.3,68.2 319.4,70.0C320.5,71.8 322.5,73.1 323.1,74.4C323.7,75.8 323.6,77.0 323.1,78.1C322.6,79.2 322.0,80.5 320.0,81.2C318.0,82.0 314.1,82.6 311.2,82.5C308.4,82.4 305.1,81.3 303.1,80.6C301.1,79.9 299.9,79.1 299.4,78.1C298.9,77.1 299.3,75.7 300.0,74.4C300.7,73.2 302.8,72.2 303.8,70.6C304.7,69.0 305.3,67.1 305.6,65.0C305.9,62.9 305.6,60.4 305.6,58.1C304.6,58.1 303.5,58.1 302.5,58.1C302.4,56.6 302.0,55.4 302.2,53.8C302.5,52.1 303.0,49.7 303.8,48.1C304.5,46.5 305.8,45.2 306.9,44.4C308.0,43.6 309.2,42.9 310.6,43.1Z"/></clipPath><g clip-path="url(#c24)"><path d="M309.7,46.3 L309.5,50.4 L309.4,54.6 L310.1,58.7 L310.3,62.9 L310.6,67.0 L310.5,71.2 L310.0,75.4 L311.3,79.4" fill="none" stroke="#fac6ab" stroke-opacity="0.70" stroke-width="6.3" stroke-linecap="round" stroke-linejoin="round" filter="url(#b12)"/><rect x="297" y="41" width="28" height="43" filter="url(#wc)"/></g><path d="M310.6,43.1C312.1,43.3 314.4,44.2 315.6,45.6C316.9,47.0 317.7,49.5 318.1,51.2C318.5,53.0 318.1,54.6 318.1,56.2C317.3,56.5 316.4,56.7 315.6,56.9C315.8,59.2 315.6,61.6 316.2,63.8C316.9,65.9 318.3,68.2 319.4,70.0C320.5,71.8 322.5,73.1 323.1,74.4C323.7,75.8 323.6,77.0 323.1,78.1C322.6,79.2 322.0,80.5 320.0,81.2C318.0,82.0 314.1,82.6 311.2,82.5C308.4,82.4 305.1,81.3 303.1,80.6C301.1,79.9 299.9,79.1 299.4,78.1C298.9,77.1 299.3,75.7 300.0,74.4C300.7,73.2 302.8,72.2 303.8,70.6C304.7,69.0 305.3,67.1 305.6,65.0C305.9,62.9 305.6,60.4 305.6,58.1C304.6,58.1 303.5,58.1 302.5,58.1C302.4,56.6 302.0,55.4 302.2,53.8C302.5,52.1 303.0,49.7 303.8,48.1C304.5,46.5 305.8,45.2 306.9,44.4C308.0,43.6 309.2,42.9 310.6,43.1Z" fill="none" stroke="#111" stroke-width="1.6" stroke-linejoin="round"/></g>
<g><path d="M370.0,12.1C371.7,12.3 374.7,13.1 376.2,14.4C377.8,15.7 378.7,18.0 379.4,20.0C380.1,22.0 380.4,24.6 380.2,26.2C380.1,27.9 379.2,28.8 378.8,30.0C378.1,29.9 377.5,29.8 376.9,29.8C377.1,31.9 377.0,33.9 377.5,36.2C378.0,38.6 379.2,41.8 380.0,43.8C380.8,45.7 382.2,46.6 382.5,48.1C382.8,49.6 382.4,51.4 381.9,52.5C381.4,53.6 381.2,54.5 379.4,55.0C377.6,55.5 373.9,55.8 371.2,55.6C368.6,55.4 365.5,54.5 363.8,53.8C362.0,53.0 361.2,52.4 360.6,51.2C360.0,50.1 360.0,48.4 360.4,46.9C360.8,45.4 362.1,44.2 363.0,42.5C363.9,40.8 365.1,38.8 365.6,36.9C366.1,35.0 366.0,33.1 366.2,31.2C365.2,31.6 364.1,31.9 363.0,32.2C362.3,30.9 361.4,29.5 361.0,28.1C360.6,26.7 360.1,25.6 360.4,23.8C360.6,21.9 361.5,18.7 362.5,16.9C363.5,15.1 365.0,13.9 366.2,13.1C367.5,12.3 368.3,11.9 370.0,12.1Z" fill="#f49a74"/><clipPath id="c25"><path d="M370.0,12.1C371.7,12.3 374.7,13.1 376.2,14.4C377.8,15.7 378.7,18.0 379.4,20.0C380.1,22.0 380.4,24.6 380.2,26.2C380.1,27.9 379.2,28.8 378.8,30.0C378.1,29.9 377.5,29.8 376.9,29.8C377.1,31.9 377.0,33.9 377.5,36.2C378.0,38.6 379.2,41.8 380.0,43.8C380.8,45.7 382.2,46.6 382.5,48.1C382.8,49.6 382.4,51.4 381.9,52.5C381.4,53.6 381.2,54.5 379.4,55.0C377.6,55.5 373.9,55.8 371.2,55.6C368.6,55.4 365.5,54.5 363.8,53.8C362.0,53.0 361.2,52.4 360.6,51.2C360.0,50.1 360.0,48.4 360.4,46.9C360.8,45.4 362.1,44.2 363.0,42.5C363.9,40.8 365.1,38.8 365.6,36.9C366.1,35.0 366.0,33.1 366.2,31.2C365.2,31.6 364.1,31.9 363.0,32.2C362.3,30.9 361.4,29.5 361.0,28.1C360.6,26.7 360.1,25.6 360.4,23.8C360.6,21.9 361.5,18.7 362.5,16.9C363.5,15.1 365.0,13.9 366.2,13.1C367.5,12.3 368.3,11.9 370.0,12.1Z"/></clipPath><g clip-path="url(#c25)"><path d="M369.3,15.5 L369.2,20.2 L369.3,24.8 L369.7,29.4 L371.0,33.9 L370.7,38.5 L370.0,43.2 L370.0,47.8 L371.3,52.4" fill="none" stroke="#fac6ab" stroke-opacity="0.70" stroke-width="7.4" stroke-linecap="round" stroke-linejoin="round" filter="url(#b12)"/><rect x="358" y="10" width="26" height="48" filter="url(#wc)"/></g><path d="M370.0,12.1C371.7,12.3 374.7,13.1 376.2,14.4C377.8,15.7 378.7,18.0 379.4,20.0C380.1,22.0 380.4,24.6 380.2,26.2C380.1,27.9 379.2,28.8 378.8,30.0C378.1,29.9 377.5,29.8 376.9,29.8C377.1,31.9 377.0,33.9 377.5,36.2C378.0,38.6 379.2,41.8 380.0,43.8C380.8,45.7 382.2,46.6 382.5,48.1C382.8,49.6 382.4,51.4 381.9,52.5C381.4,53.6 381.2,54.5 379.4,55.0C377.6,55.5 373.9,55.8 371.2,55.6C368.6,55.4 365.5,54.5 363.8,53.8C362.0,53.0 361.2,52.4 360.6,51.2C360.0,50.1 360.0,48.4 360.4,46.9C360.8,45.4 362.1,44.2 363.0,42.5C363.9,40.8 365.1,38.8 365.6,36.9C366.1,35.0 366.0,33.1 366.2,31.2C365.2,31.6 364.1,31.9 363.0,32.2C362.3,30.9 361.4,29.5 361.0,28.1C360.6,26.7 360.1,25.6 360.4,23.8C360.6,21.9 361.5,18.7 362.5,16.9C363.5,15.1 365.0,13.9 366.2,13.1C367.5,12.3 368.3,11.9 370.0,12.1Z" fill="none" stroke="#111" stroke-width="1.6" stroke-linejoin="round"/></g>
<g><path d="M438.1,35.6C439.8,35.5 442.3,36.5 443.8,37.5C445.2,38.5 446.2,40.2 446.9,41.9C447.6,43.6 448.0,45.9 448.1,47.5C448.2,49.1 447.5,50.0 447.2,51.2C446.5,51.5 445.8,51.7 445.0,51.9C445.0,53.8 444.7,55.4 445.0,57.5C445.3,59.6 446.0,62.7 446.9,64.4C447.8,66.1 449.9,66.4 450.6,67.5C451.3,68.6 451.4,70.1 451.0,71.2C450.6,72.4 449.9,73.6 448.1,74.4C446.3,75.2 442.8,76.2 440.0,76.2C437.2,76.3 433.4,75.6 431.2,75.0C429.1,74.4 427.5,73.7 426.9,72.5C426.3,71.3 426.8,69.6 427.5,68.1C428.2,66.6 430.3,65.5 431.2,63.8C432.2,62.0 432.9,59.3 433.1,57.5C433.4,55.7 432.9,54.6 432.8,53.1C431.8,53.2 430.9,53.4 430.0,53.5C429.7,51.9 428.9,50.5 429.0,48.8C429.1,47.0 429.8,44.9 430.6,43.1C431.4,41.3 432.5,39.4 433.8,38.1C435.0,36.9 436.4,35.7 438.1,35.6Z" fill="#f49a74"/><clipPath id="c26"><path d="M438.1,35.6C439.8,35.5 442.3,36.5 443.8,37.5C445.2,38.5 446.2,40.2 446.9,41.9C447.6,43.6 448.0,45.9 448.1,47.5C448.2,49.1 447.5,50.0 447.2,51.2C446.5,51.5 445.8,51.7 445.0,51.9C445.0,53.8 444.7,55.4 445.0,57.5C445.3,59.6 446.0,62.7 446.9,64.4C447.8,66.1 449.9,66.4 450.6,67.5C451.3,68.6 451.4,70.1 451.0,71.2C450.6,72.4 449.9,73.6 448.1,74.4C446.3,75.2 442.8,76.2 440.0,76.2C437.2,76.3 433.4,75.6 431.2,75.0C429.1,74.4 427.5,73.7 426.9,72.5C426.3,71.3 426.8,69.6 427.5,68.1C428.2,66.6 430.3,65.5 431.2,63.8C432.2,62.0 432.9,59.3 433.1,57.5C433.4,55.7 432.9,54.6 432.8,53.1C431.8,53.2 430.9,53.4 430.0,53.5C429.7,51.9 428.9,50.5 429.0,48.8C429.1,47.0 429.8,44.9 430.6,43.1C431.4,41.3 432.5,39.4 433.8,38.1C435.0,36.9 436.4,35.7 438.1,35.6Z"/></clipPath><g clip-path="url(#c26)"><path d="M438.5,38.8 L438.1,43.1 L437.7,47.4 L437.0,51.7 L438.4,55.9 L438.4,60.2 L438.0,64.5 L437.9,68.7 L437.6,73.0" fill="none" stroke="#fac6ab" stroke-opacity="0.70" stroke-width="7.0" stroke-linecap="round" stroke-linejoin="round" filter="url(#b12)"/><rect x="425" y="34" width="29" height="45" filter="url(#wc)"/></g><path d="M438.1,35.6C439.8,35.5 442.3,36.5 443.8,37.5C445.2,38.5 446.2,40.2 446.9,41.9C447.6,43.6 448.0,45.9 448.1,47.5C448.2,49.1 447.5,50.0 447.2,51.2C446.5,51.5 445.8,51.7 445.0,51.9C445.0,53.8 444.7,55.4 445.0,57.5C445.3,59.6 446.0,62.7 446.9,64.4C447.8,66.1 449.9,66.4 450.6,67.5C451.3,68.6 451.4,70.1 451.0,71.2C450.6,72.4 449.9,73.6 448.1,74.4C446.3,75.2 442.8,76.2 440.0,76.2C437.2,76.3 433.4,75.6 431.2,75.0C429.1,74.4 427.5,73.7 426.9,72.5C426.3,71.3 426.8,69.6 427.5,68.1C428.2,66.6 430.3,65.5 431.2,63.8C432.2,62.0 432.9,59.3 433.1,57.5C433.4,55.7 432.9,54.6 432.8,53.1C431.8,53.2 430.9,53.4 430.0,53.5C429.7,51.9 428.9,50.5 429.0,48.8C429.1,47.0 429.8,44.9 430.6,43.1C431.4,41.3 432.5,39.4 433.8,38.1C435.0,36.9 436.4,35.7 438.1,35.6Z" fill="none" stroke="#111" stroke-width="1.6" stroke-linejoin="round"/></g>
<g><path d="M511.2,171.5C513.0,171.5 515.5,172.1 516.9,173.1C518.3,174.1 519.2,175.7 519.8,177.5C520.3,179.3 520.3,181.7 520.0,183.8C519.7,185.8 518.8,188.4 518.1,190.0C517.4,191.6 516.4,193.0 515.6,193.5C514.8,194.0 513.7,192.4 513.1,193.1C512.5,193.8 512.2,195.8 511.9,197.5C511.6,199.2 511.1,201.6 511.2,203.1C511.4,204.6 512.0,205.5 512.5,206.2C513.0,207.0 513.8,207.1 514.4,207.5C513.8,209.2 513.1,210.8 512.5,212.5C511.9,214.2 511.8,216.5 510.6,217.5C509.5,218.5 507.6,218.6 505.6,218.8C503.6,218.9 500.7,219.0 498.8,218.5C496.8,218.0 495.4,216.6 493.8,215.6C492.1,214.6 490.0,213.8 488.8,212.5C487.5,211.2 486.2,209.6 486.0,208.1C485.8,206.6 486.4,205.0 487.5,203.8C488.6,202.5 490.7,201.8 492.5,200.6C494.3,199.3 496.8,197.8 498.1,196.2C499.5,194.7 500.3,192.8 500.6,191.2C500.9,189.7 500.2,188.3 500.0,186.9C499.1,187.0 498.2,187.1 497.2,187.2C497.4,185.7 497.1,184.2 497.8,182.5C498.4,180.8 499.8,178.5 501.2,176.9C502.7,175.3 504.6,174.0 506.2,173.1C507.9,172.2 509.5,171.5 511.2,171.5Z" fill="#f49a74"/><clipPath id="c27"><path d="M511.2,171.5C513.0,171.5 515.5,172.1 516.9,173.1C518.3,174.1 519.2,175.7 519.8,177.5C520.3,179.3 520.3,181.7 520.0,183.8C519.7,185.8 518.8,188.4 518.1,190.0C517.4,191.6 516.4,193.0 515.6,193.5C514.8,194.0 513.7,192.4 513.1,193.1C512.5,193.8 512.2,195.8 511.9,197.5C511.6,199.2 511.1,201.6 511.2,203.1C511.4,204.6 512.0,205.5 512.5,206.2C513.0,207.0 513.8,207.1 514.4,207.5C513.8,209.2 513.1,210.8 512.5,212.5C511.9,214.2 511.8,216.5 510.6,217.5C509.5,218.5 507.6,218.6 505.6,218.8C503.6,218.9 500.7,219.0 498.8,218.5C496.8,218.0 495.4,216.6 493.8,215.6C492.1,214.6 490.0,213.8 488.8,212.5C487.5,211.2 486.2,209.6 486.0,208.1C485.8,206.6 486.4,205.0 487.5,203.8C488.6,202.5 490.7,201.8 492.5,200.6C494.3,199.3 496.8,197.8 498.1,196.2C499.5,194.7 500.3,192.8 500.6,191.2C500.9,189.7 500.2,188.3 500.0,186.9C499.1,187.0 498.2,187.1 497.2,187.2C497.4,185.7 497.1,184.2 497.8,182.5C498.4,180.8 499.8,178.5 501.2,176.9C502.7,175.3 504.6,174.0 506.2,173.1C507.9,172.2 509.5,171.5 511.2,171.5Z"/></clipPath><g clip-path="url(#c27)"><path d="M512.3,175.4 L509.7,179.9 L507.5,184.6 L505.7,189.4 L505.4,194.8 L503.4,199.6 L501.8,204.5 L498.3,208.7 L496.9,213.7" fill="none" stroke="#fac6ab" stroke-opacity="0.70" stroke-width="8.4" stroke-linecap="round" stroke-linejoin="round" filter="url(#b12)"/><rect x="484" y="170" width="38" height="51" filter="url(#wc)"/></g><path d="M511.2,171.5C513.0,171.5 515.5,172.1 516.9,173.1C518.3,174.1 519.2,175.7 519.8,177.5C520.3,179.3 520.3,181.7 520.0,183.8C519.7,185.8 518.8,188.4 518.1,190.0C517.4,191.6 516.4,193.0 515.6,193.5C514.8,194.0 513.7,192.4 513.1,193.1C512.5,193.8 512.2,195.8 511.9,197.5C511.6,199.2 511.1,201.6 511.2,203.1C511.4,204.6 512.0,205.5 512.5,206.2C513.0,207.0 513.8,207.1 514.4,207.5C513.8,209.2 513.1,210.8 512.5,212.5C511.9,214.2 511.8,216.5 510.6,217.5C509.5,218.5 507.6,218.6 505.6,218.8C503.6,218.9 500.7,219.0 498.8,218.5C496.8,218.0 495.4,216.6 493.8,215.6C492.1,214.6 490.0,213.8 488.8,212.5C487.5,211.2 486.2,209.6 486.0,208.1C485.8,206.6 486.4,205.0 487.5,203.8C488.6,202.5 490.7,201.8 492.5,200.6C494.3,199.3 496.8,197.8 498.1,196.2C499.5,194.7 500.3,192.8 500.6,191.2C500.9,189.7 500.2,188.3 500.0,186.9C499.1,187.0 498.2,187.1 497.2,187.2C497.4,185.7 497.1,184.2 497.8,182.5C498.4,180.8 499.8,178.5 501.2,176.9C502.7,175.3 504.6,174.0 506.2,173.1C507.9,172.2 509.5,171.5 511.2,171.5Z" fill="none" stroke="#111" stroke-width="1.6" stroke-linejoin="round"/></g>
<g stroke="#505050" stroke-width="0.85" fill="none"><polyline points="151.0,144.3 374.4,104.4"/><polyline points="151.0,145.7 435.6,118.5"/><polyline points="151.0,149.5 318.0,134.9"/><polyline points="163.8,151.8 467.2,163.5 481.7,265.0"/><polyline points="151.0,153.8 266.5,194.3"/><polyline points="228.8,355.0 297.0,267.5"/><polyline points="228.8,355.0 338.5,246.5"/><polyline points="228.8,355.0 382.4,224.0"/><polyline points="228.8,355.0 424.0,223.8"/><polyline points="228.8,355.0 477.5,288.6"/><polyline points="555.8,299.2 408.0,357.5"/><polyline points="522.5,386.8 414.0,386.8"/><polyline points="132.8,417.2 326.0,379.0"/><polyline points="272.2,466.6 329.0,401.0"/><polyline points="356.6,405.0 356.6,464.5"/><polyline points="505.6,510.6 354.0,379.0"/><polyline points="505.6,510.6 385.0,379.0"/><polyline points="505.6,510.6 426.0,369.0"/></g>
<text x="45.6" y="152.5" font-size="25" textLength="101.3" lengthAdjust="spacingAndGlyphs" stroke="#111" stroke-width="0.45"><tspan font-size="22.5">T</tspan>hiemann</text>
<text x="128.4" y="372.0" font-size="25" textLength="99.8" lengthAdjust="spacingAndGlyphs" stroke="#111" stroke-width="0.45"><tspan font-size="22.5">M</tspan>auclaire</text>
<text x="14.6" y="434.4" font-size="25" textLength="163.0" lengthAdjust="spacingAndGlyphs" stroke="#111" stroke-width="0.45"><tspan font-size="22.5">S</tspan>chmier-<tspan font-size="22.5">M</tspan>eyers</text>
<text x="242.2" y="486.4" font-size="25" textLength="44.4" lengthAdjust="spacingAndGlyphs" stroke="#111" stroke-width="0.45"><tspan font-size="22.5">W</tspan>itt</text>
<text x="314.4" y="486.6" font-size="25" textLength="92.0" lengthAdjust="spacingAndGlyphs" stroke="#111" stroke-width="0.45"><tspan font-size="22.5">K</tspan>ienböck</text>
<text x="480.2" y="528.4" font-size="25" textLength="88.8" lengthAdjust="spacingAndGlyphs" stroke="#111" stroke-width="0.45"><tspan font-size="22.5">B</tspan>rainard</text>
<text x="528.6" y="393.8" font-size="25" textLength="69.8" lengthAdjust="spacingAndGlyphs" stroke="#111" stroke-width="0.45"><tspan font-size="22.5">P</tspan>reiser</text>
<text x="562.0" y="304.2" font-size="25" textLength="53.3" lengthAdjust="spacingAndGlyphs" stroke="#111" stroke-width="0.45"><tspan font-size="22.5">A</tspan>gati</text>
</svg></body></html>
